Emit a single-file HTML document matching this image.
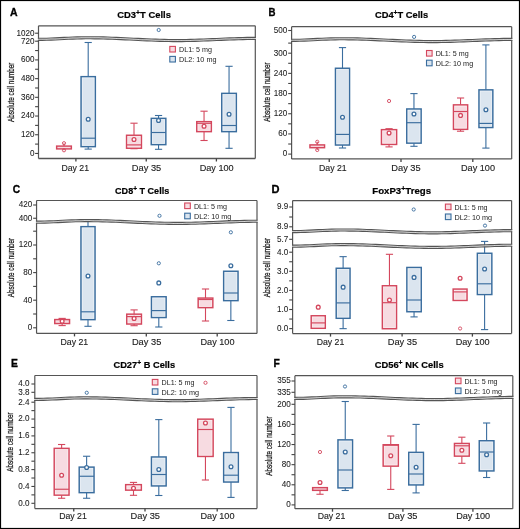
<!DOCTYPE html>
<html><head><meta charset="utf-8"><style>
html,body{margin:0;padding:0;background:#fff;overflow:hidden;}
svg{display:block;font-family:"Liberation Sans",sans-serif;will-change:transform;}
</style></head><body>
<svg width="520" height="529" viewBox="0 0 520 529">
<rect x="0" y="0" width="520" height="529" fill="#fff"/>
<rect x="0.5" y="0.5" width="519" height="528" fill="none" stroke="#000" stroke-width="1.2"/>
<line x1="38.5" y1="25.8" x2="255.3" y2="25.8" stroke="#555555" stroke-width="1.2"/>
<line x1="38.5" y1="158.5" x2="255.3" y2="158.5" stroke="#555555" stroke-width="1.3"/>
<line x1="38.5" y1="25.8" x2="38.5" y2="158.5" stroke="#555555" stroke-width="1.2"/>
<line x1="255.3" y1="25.8" x2="255.3" y2="158.5" stroke="#555555" stroke-width="1.2"/>
<line x1="35.1" y1="33.2" x2="38.5" y2="33.2" stroke="#444" stroke-width="1.1"/>
<text x="16.38" y="35.5" font-size="8.6" textLength="18.02" lengthAdjust="spacingAndGlyphs" fill="#222" stroke="#222" stroke-width="0.08">1020</text>
<line x1="35.1" y1="153.45" x2="38.5" y2="153.45" stroke="#444" stroke-width="1.1"/>
<text x="29.9" y="155.75" font-size="8.6" textLength="4.5" lengthAdjust="spacingAndGlyphs" fill="#222" stroke="#222" stroke-width="0.08">0</text>
<line x1="35.1" y1="144.1" x2="38.5" y2="144.1" stroke="#444" stroke-width="1.1"/>
<line x1="35.1" y1="134.74" x2="38.5" y2="134.74" stroke="#444" stroke-width="1.1"/>
<text x="20.89" y="137.04" font-size="8.6" textLength="13.51" lengthAdjust="spacingAndGlyphs" fill="#222" stroke="#222" stroke-width="0.08">120</text>
<line x1="35.1" y1="125.39" x2="38.5" y2="125.39" stroke="#444" stroke-width="1.1"/>
<line x1="35.1" y1="116.03" x2="38.5" y2="116.03" stroke="#444" stroke-width="1.1"/>
<text x="20.89" y="118.33" font-size="8.6" textLength="13.51" lengthAdjust="spacingAndGlyphs" fill="#222" stroke="#222" stroke-width="0.08">240</text>
<line x1="35.1" y1="106.68" x2="38.5" y2="106.68" stroke="#444" stroke-width="1.1"/>
<line x1="35.1" y1="97.32" x2="38.5" y2="97.32" stroke="#444" stroke-width="1.1"/>
<text x="20.89" y="99.62" font-size="8.6" textLength="13.51" lengthAdjust="spacingAndGlyphs" fill="#222" stroke="#222" stroke-width="0.08">360</text>
<line x1="35.1" y1="87.97" x2="38.5" y2="87.97" stroke="#444" stroke-width="1.1"/>
<line x1="35.1" y1="78.62" x2="38.5" y2="78.62" stroke="#444" stroke-width="1.1"/>
<text x="20.89" y="80.92" font-size="8.6" textLength="13.51" lengthAdjust="spacingAndGlyphs" fill="#222" stroke="#222" stroke-width="0.08">480</text>
<line x1="35.1" y1="69.26" x2="38.5" y2="69.26" stroke="#444" stroke-width="1.1"/>
<line x1="35.1" y1="59.91" x2="38.5" y2="59.91" stroke="#444" stroke-width="1.1"/>
<text x="20.89" y="62.21" font-size="8.6" textLength="13.51" lengthAdjust="spacingAndGlyphs" fill="#222" stroke="#222" stroke-width="0.08">600</text>
<line x1="35.1" y1="50.55" x2="38.5" y2="50.55" stroke="#444" stroke-width="1.1"/>
<line x1="35.1" y1="41.2" x2="38.5" y2="41.2" stroke="#444" stroke-width="1.1"/>
<text x="20.89" y="43.5" font-size="8.6" textLength="13.51" lengthAdjust="spacingAndGlyphs" fill="#222" stroke="#222" stroke-width="0.08">720</text>
<line x1="75.9" y1="158.5" x2="75.9" y2="161.5" stroke="#444" stroke-width="1.3"/>
<text x="61.4" y="171.2" font-size="9.8" textLength="27.6" lengthAdjust="spacingAndGlyphs" fill="#1e1e1e" stroke="#1e1e1e" stroke-width="0.14">Day 21</text>
<line x1="146.25" y1="158.5" x2="146.25" y2="161.5" stroke="#444" stroke-width="1.3"/>
<text x="131.85" y="171.2" font-size="9.8" textLength="29.4" lengthAdjust="spacingAndGlyphs" fill="#1e1e1e" stroke="#1e1e1e" stroke-width="0.14">Day 35</text>
<line x1="216.4" y1="158.5" x2="216.4" y2="161.5" stroke="#444" stroke-width="1.3"/>
<text x="199.7" y="171.2" font-size="9.8" textLength="34.0" lengthAdjust="spacingAndGlyphs" fill="#1e1e1e" stroke="#1e1e1e" stroke-width="0.14">Day 100</text>
<line x1="64" y1="143.2" x2="64" y2="146.1" stroke="#d4475d" stroke-width="1.1"/>
<line x1="64" y1="148.9" x2="64" y2="150.3" stroke="#d4475d" stroke-width="1.1"/>
<rect x="56.65" y="146.1" width="14.7" height="2.8" fill="#f7dbe1" stroke="#d4475d" stroke-width="1.45"/>
<circle cx="64" cy="143.2" r="1.6" fill="none" stroke="#d4475d" stroke-width="0.9"/>
<circle cx="64" cy="150.3" r="1.6" fill="none" stroke="#d4475d" stroke-width="0.9"/>
<line x1="88.2" y1="42.5" x2="88.2" y2="76.65" stroke="#3a6d9e" stroke-width="1.1"/>
<line x1="84.6" y1="42.5" x2="91.8" y2="42.5" stroke="#3a6d9e" stroke-width="1.1"/>
<line x1="88.2" y1="146.65" x2="88.2" y2="149.1" stroke="#3a6d9e" stroke-width="1.1"/>
<line x1="84.6" y1="149.1" x2="91.8" y2="149.1" stroke="#3a6d9e" stroke-width="1.1"/>
<rect x="81.05" y="76.65" width="14.3" height="70" fill="#dbe5ef" stroke="#3a6d9e" stroke-width="1.45"/>
<rect x="82.35" y="77.95" width="11.7" height="67.4" fill="none" stroke="#fff" stroke-opacity="0.55" stroke-width="0.6"/>
<line x1="81.05" y1="138.2" x2="95.35" y2="138.2" stroke="#3a6d9e" stroke-width="1.15"/>
<circle cx="88.2" cy="119.3" r="1.9" fill="#fff" stroke="#3a6d9e" stroke-width="1.3"/>
<line x1="134" y1="123.2" x2="134" y2="135.25" stroke="#d4475d" stroke-width="1.1"/>
<line x1="130.4" y1="123.2" x2="137.6" y2="123.2" stroke="#d4475d" stroke-width="1.1"/>
<line x1="134" y1="148.25" x2="134" y2="148.7" stroke="#d4475d" stroke-width="1.1"/>
<line x1="130.4" y1="148.7" x2="137.6" y2="148.7" stroke="#d4475d" stroke-width="1.1"/>
<rect x="126.55" y="135.25" width="14.9" height="13" fill="#f7dbe1" stroke="#d4475d" stroke-width="1.45"/>
<rect x="127.85" y="136.55" width="12.3" height="10.4" fill="none" stroke="#fff" stroke-opacity="0.55" stroke-width="0.6"/>
<line x1="126.55" y1="144.9" x2="141.45" y2="144.9" stroke="#d4475d" stroke-width="1.15"/>
<circle cx="134" cy="139.5" r="1.9" fill="#fff" stroke="#d4475d" stroke-width="1.3"/>
<line x1="158.55" y1="115.5" x2="158.55" y2="118.35" stroke="#3a6d9e" stroke-width="1.1"/>
<line x1="154.95" y1="115.5" x2="162.15" y2="115.5" stroke="#3a6d9e" stroke-width="1.1"/>
<line x1="158.55" y1="144.65" x2="158.55" y2="149.3" stroke="#3a6d9e" stroke-width="1.1"/>
<line x1="154.95" y1="149.3" x2="162.15" y2="149.3" stroke="#3a6d9e" stroke-width="1.1"/>
<rect x="151.25" y="118.35" width="14.6" height="26.3" fill="#dbe5ef" stroke="#3a6d9e" stroke-width="1.45"/>
<rect x="152.55" y="119.65" width="12" height="23.7" fill="none" stroke="#fff" stroke-opacity="0.55" stroke-width="0.6"/>
<line x1="151.25" y1="132.5" x2="165.85" y2="132.5" stroke="#3a6d9e" stroke-width="1.15"/>
<circle cx="158.55" cy="120.5" r="1.9" fill="#fff" stroke="#3a6d9e" stroke-width="1.3"/>
<line x1="204.05" y1="111.2" x2="204.05" y2="121.65" stroke="#d4475d" stroke-width="1.1"/>
<line x1="200.45" y1="111.2" x2="207.65" y2="111.2" stroke="#d4475d" stroke-width="1.1"/>
<line x1="204.05" y1="131.65" x2="204.05" y2="140.5" stroke="#d4475d" stroke-width="1.1"/>
<line x1="200.45" y1="140.5" x2="207.65" y2="140.5" stroke="#d4475d" stroke-width="1.1"/>
<rect x="196.75" y="121.65" width="14.6" height="10" fill="#f7dbe1" stroke="#d4475d" stroke-width="1.45"/>
<rect x="198.05" y="122.95" width="12" height="7.4" fill="none" stroke="#fff" stroke-opacity="0.55" stroke-width="0.6"/>
<line x1="196.75" y1="123.3" x2="211.35" y2="123.3" stroke="#d4475d" stroke-width="1.15"/>
<circle cx="204.05" cy="126.3" r="1.9" fill="#fff" stroke="#d4475d" stroke-width="1.3"/>
<line x1="229.05" y1="66.3" x2="229.05" y2="93.35" stroke="#3a6d9e" stroke-width="1.1"/>
<line x1="225.45" y1="66.3" x2="232.65" y2="66.3" stroke="#3a6d9e" stroke-width="1.1"/>
<line x1="229.05" y1="131.65" x2="229.05" y2="148.3" stroke="#3a6d9e" stroke-width="1.1"/>
<line x1="225.45" y1="148.3" x2="232.65" y2="148.3" stroke="#3a6d9e" stroke-width="1.1"/>
<rect x="221.75" y="93.35" width="14.6" height="38.3" fill="#dbe5ef" stroke="#3a6d9e" stroke-width="1.45"/>
<rect x="223.05" y="94.65" width="12" height="35.7" fill="none" stroke="#fff" stroke-opacity="0.55" stroke-width="0.6"/>
<line x1="221.75" y1="125.5" x2="236.35" y2="125.5" stroke="#3a6d9e" stroke-width="1.15"/>
<circle cx="229.05" cy="114.3" r="1.9" fill="#fff" stroke="#3a6d9e" stroke-width="1.3"/>
<circle cx="158.7" cy="30" r="1.6" fill="none" stroke="#3a6d9e" stroke-width="0.9"/>
<polygon points="37,38.7 41.4,38.67 45.79,38.58 50.19,38.44 54.58,38.25 58.98,38.04 63.38,37.82 67.77,37.6 72.17,37.41 76.56,37.25 80.96,37.15 85.36,37.1 89.75,37.11 94.15,37.15 98.54,37.22 102.94,37.32 107.34,37.45 111.73,37.6 116.13,37.77 120.52,37.96 124.92,38.16 129.32,38.37 133.71,38.58 138.11,38.79 142.5,38.99 146.9,39.18 151.3,39.36 155.69,39.52 160.09,39.65 164.48,39.76 168.88,39.84 173.28,39.88 177.67,39.9 182.07,39.88 186.46,39.84 190.86,39.76 195.26,39.65 199.65,39.52 204.05,39.36 208.44,39.19 212.84,39.01 217.24,38.83 221.63,38.64 226.03,38.46 230.42,38.29 234.82,38.13 239.22,38 243.61,37.89 248.01,37.81 252.4,37.77 256.8,37.75 256.8,39.05 252.4,39.07 248.01,39.11 243.61,39.19 239.22,39.3 234.82,39.43 230.42,39.59 226.03,39.76 221.63,39.94 217.24,40.12 212.84,40.31 208.44,40.49 204.05,40.66 199.65,40.82 195.26,40.95 190.86,41.06 186.46,41.14 182.07,41.18 177.67,41.2 173.28,41.18 168.88,41.14 164.48,41.06 160.09,40.95 155.69,40.82 151.3,40.66 146.9,40.48 142.5,40.29 138.11,40.09 133.71,39.88 129.32,39.67 124.92,39.46 120.52,39.26 116.13,39.07 111.73,38.9 107.34,38.75 102.94,38.62 98.54,38.52 94.15,38.45 89.75,38.41 85.36,38.4 80.96,38.45 76.56,38.55 72.17,38.71 67.77,38.9 63.38,39.12 58.98,39.34 54.58,39.55 50.19,39.74 45.79,39.88 41.4,39.97 37,40" fill="#fff" stroke="none"/>
<polyline points="37.9,39.35 42.26,39.32 46.62,39.23 50.98,39.09 55.34,38.9 59.7,38.69 64.06,38.47 68.42,38.25 72.78,38.06 77.14,37.9 81.5,37.8 85.86,37.75 90.22,37.76 94.58,37.8 98.94,37.87 103.3,37.97 107.66,38.1 112.02,38.25 116.38,38.42 120.74,38.61 125.1,38.81 129.46,39.02 133.82,39.23 138.18,39.44 142.54,39.64 146.9,39.83 151.26,40.01 155.62,40.17 159.98,40.3 164.34,40.41 168.7,40.49 173.06,40.53 177.42,40.55 181.78,40.53 186.14,40.49 190.5,40.41 194.86,40.3 199.22,40.17 203.58,40.01 207.94,39.84 212.3,39.66 216.66,39.48 221.02,39.29 225.38,39.11 229.74,38.94 234.1,38.78 238.46,38.65 242.82,38.54 247.18,38.46 251.54,38.42 255.9,38.4" fill="none" stroke="#c8c8c8" stroke-width="1"/>
<polyline points="37.9,38.3 42.26,38.27 46.62,38.18 50.98,38.04 55.34,37.85 59.7,37.64 64.06,37.42 68.42,37.2 72.78,37.01 77.14,36.85 81.5,36.75 85.86,36.7 90.22,36.71 94.58,36.75 98.94,36.82 103.3,36.92 107.66,37.05 112.02,37.2 116.38,37.37 120.74,37.56 125.1,37.76 129.46,37.97 133.82,38.18 138.18,38.39 142.54,38.59 146.9,38.78 151.26,38.96 155.62,39.12 159.98,39.25 164.34,39.36 168.7,39.44 173.06,39.48 177.42,39.5 181.78,39.48 186.14,39.44 190.5,39.36 194.86,39.25 199.22,39.12 203.58,38.96 207.94,38.79 212.3,38.61 216.66,38.43 221.02,38.24 225.38,38.06 229.74,37.89 234.1,37.73 238.46,37.6 242.82,37.49 247.18,37.41 251.54,37.37 255.9,37.35" fill="none" stroke="#555555" stroke-width="1.1"/>
<polyline points="37.9,40.4 42.26,40.37 46.62,40.28 50.98,40.14 55.34,39.95 59.7,39.74 64.06,39.52 68.42,39.3 72.78,39.11 77.14,38.95 81.5,38.85 85.86,38.8 90.22,38.81 94.58,38.85 98.94,38.92 103.3,39.02 107.66,39.15 112.02,39.3 116.38,39.47 120.74,39.66 125.1,39.86 129.46,40.07 133.82,40.28 138.18,40.49 142.54,40.69 146.9,40.88 151.26,41.06 155.62,41.22 159.98,41.35 164.34,41.46 168.7,41.54 173.06,41.58 177.42,41.6 181.78,41.58 186.14,41.54 190.5,41.46 194.86,41.35 199.22,41.22 203.58,41.06 207.94,40.89 212.3,40.71 216.66,40.52 221.02,40.34 225.38,40.16 229.74,39.99 234.1,39.83 238.46,39.7 242.82,39.59 247.18,39.51 251.54,39.47 255.9,39.45" fill="none" stroke="#555555" stroke-width="1.1"/>
<rect x="169.8" y="46.4" width="5.6" height="5.6" fill="#f7dbe1" stroke="#d4475d" stroke-width="1.1"/>
<text x="179" y="52.1" font-size="8" textLength="33" lengthAdjust="spacingAndGlyphs" fill="#222">DL1: 5 mg</text>
<rect x="169.8" y="56.4" width="5.6" height="5.6" fill="#dbe5ef" stroke="#3a6d9e" stroke-width="1.1"/>
<text x="179" y="62.1" font-size="8" textLength="37.5" lengthAdjust="spacingAndGlyphs" fill="#222">DL2: 10 mg</text>
<text x="10" y="16.2" font-size="11.8" font-weight="bold" fill="#000" stroke="#000" stroke-width="0.35" textLength="7.6" lengthAdjust="spacingAndGlyphs">A</text>
<text x="117.3" y="18" font-size="9.6" font-weight="bold" fill="#000" stroke="#000" stroke-width="0.2" textLength="53.6" lengthAdjust="spacingAndGlyphs">CD3<tspan font-size="7" dy="-2.9">+</tspan><tspan dy="2.9">T Cells</tspan></text>
<text transform="translate(14,92.3) rotate(-90)" x="0" y="0" font-size="9.4" text-anchor="middle" textLength="59.5" lengthAdjust="spacingAndGlyphs" fill="#1a1a1a" stroke="#1a1a1a" stroke-width="0.28">Absolute cell number</text>
<line x1="291.6" y1="26.7" x2="511.7" y2="26.7" stroke="#555555" stroke-width="1.2"/>
<line x1="291.6" y1="158.9" x2="511.7" y2="158.9" stroke="#555555" stroke-width="1.3"/>
<line x1="291.6" y1="26.7" x2="291.6" y2="158.9" stroke="#555555" stroke-width="1.2"/>
<line x1="511.7" y1="26.7" x2="511.7" y2="158.9" stroke="#555555" stroke-width="1.2"/>
<line x1="288.2" y1="30.5" x2="291.6" y2="30.5" stroke="#444" stroke-width="1.1"/>
<text x="273.84" y="32.8" font-size="8.6" textLength="13.51" lengthAdjust="spacingAndGlyphs" fill="#222" stroke="#222" stroke-width="0.08">500</text>
<line x1="288.2" y1="154.1" x2="291.6" y2="154.1" stroke="#444" stroke-width="1.1"/>
<text x="282.85" y="156.4" font-size="8.6" textLength="4.5" lengthAdjust="spacingAndGlyphs" fill="#222" stroke="#222" stroke-width="0.08">0</text>
<line x1="288.2" y1="144.01" x2="291.6" y2="144.01" stroke="#444" stroke-width="1.1"/>
<line x1="288.2" y1="133.92" x2="291.6" y2="133.92" stroke="#444" stroke-width="1.1"/>
<text x="278.34" y="136.22" font-size="8.6" textLength="9.01" lengthAdjust="spacingAndGlyphs" fill="#222" stroke="#222" stroke-width="0.08">60</text>
<line x1="288.2" y1="123.83" x2="291.6" y2="123.83" stroke="#444" stroke-width="1.1"/>
<line x1="288.2" y1="113.74" x2="291.6" y2="113.74" stroke="#444" stroke-width="1.1"/>
<text x="273.84" y="116.04" font-size="8.6" textLength="13.51" lengthAdjust="spacingAndGlyphs" fill="#222" stroke="#222" stroke-width="0.08">120</text>
<line x1="288.2" y1="103.65" x2="291.6" y2="103.65" stroke="#444" stroke-width="1.1"/>
<line x1="288.2" y1="93.56" x2="291.6" y2="93.56" stroke="#444" stroke-width="1.1"/>
<text x="273.84" y="95.86" font-size="8.6" textLength="13.51" lengthAdjust="spacingAndGlyphs" fill="#222" stroke="#222" stroke-width="0.08">180</text>
<line x1="288.2" y1="83.47" x2="291.6" y2="83.47" stroke="#444" stroke-width="1.1"/>
<line x1="288.2" y1="73.38" x2="291.6" y2="73.38" stroke="#444" stroke-width="1.1"/>
<text x="273.84" y="75.68" font-size="8.6" textLength="13.51" lengthAdjust="spacingAndGlyphs" fill="#222" stroke="#222" stroke-width="0.08">240</text>
<line x1="288.2" y1="63.29" x2="291.6" y2="63.29" stroke="#444" stroke-width="1.1"/>
<line x1="288.2" y1="53.2" x2="291.6" y2="53.2" stroke="#444" stroke-width="1.1"/>
<text x="273.84" y="55.5" font-size="8.6" textLength="13.51" lengthAdjust="spacingAndGlyphs" fill="#222" stroke="#222" stroke-width="0.08">300</text>
<line x1="288.2" y1="43.11" x2="291.6" y2="43.11" stroke="#444" stroke-width="1.1"/>
<line x1="329.25" y1="158.9" x2="329.25" y2="161.9" stroke="#444" stroke-width="1.3"/>
<text x="319.05" y="171.4" font-size="9.8" textLength="27.6" lengthAdjust="spacingAndGlyphs" fill="#1e1e1e" stroke="#1e1e1e" stroke-width="0.14">Day 21</text>
<line x1="401" y1="158.9" x2="401" y2="161.9" stroke="#444" stroke-width="1.3"/>
<text x="391.3" y="171.4" font-size="9.8" textLength="29.4" lengthAdjust="spacingAndGlyphs" fill="#1e1e1e" stroke="#1e1e1e" stroke-width="0.14">Day 35</text>
<line x1="472.8" y1="158.9" x2="472.8" y2="161.9" stroke="#444" stroke-width="1.3"/>
<text x="461" y="171.4" font-size="9.8" textLength="34.0" lengthAdjust="spacingAndGlyphs" fill="#1e1e1e" stroke="#1e1e1e" stroke-width="0.14">Day 100</text>
<line x1="317.25" y1="141.8" x2="317.25" y2="144.9" stroke="#d4475d" stroke-width="1.1"/>
<line x1="317.25" y1="147.7" x2="317.25" y2="150" stroke="#d4475d" stroke-width="1.1"/>
<rect x="309.95" y="144.9" width="14.6" height="2.8" fill="#f7dbe1" stroke="#d4475d" stroke-width="1.45"/>
<circle cx="317.25" cy="141.8" r="1.6" fill="none" stroke="#d4475d" stroke-width="0.9"/>
<circle cx="317.25" cy="150" r="1.6" fill="none" stroke="#d4475d" stroke-width="0.9"/>
<line x1="342.5" y1="47.6" x2="342.5" y2="68.25" stroke="#3a6d9e" stroke-width="1.1"/>
<line x1="338.9" y1="47.6" x2="346.1" y2="47.6" stroke="#3a6d9e" stroke-width="1.1"/>
<line x1="342.5" y1="145.05" x2="342.5" y2="148" stroke="#3a6d9e" stroke-width="1.1"/>
<line x1="338.9" y1="148" x2="346.1" y2="148" stroke="#3a6d9e" stroke-width="1.1"/>
<rect x="335.45" y="68.25" width="14.1" height="76.8" fill="#dbe5ef" stroke="#3a6d9e" stroke-width="1.45"/>
<rect x="336.75" y="69.55" width="11.5" height="74.2" fill="none" stroke="#fff" stroke-opacity="0.55" stroke-width="0.6"/>
<line x1="335.45" y1="134.4" x2="349.55" y2="134.4" stroke="#3a6d9e" stroke-width="1.15"/>
<circle cx="342.5" cy="117.3" r="1.9" fill="#fff" stroke="#3a6d9e" stroke-width="1.3"/>
<line x1="389.05" y1="128.7" x2="389.05" y2="129.65" stroke="#d4475d" stroke-width="1.1"/>
<line x1="385.45" y1="128.7" x2="392.65" y2="128.7" stroke="#d4475d" stroke-width="1.1"/>
<line x1="389.05" y1="144.45" x2="389.05" y2="146.9" stroke="#d4475d" stroke-width="1.1"/>
<line x1="385.45" y1="146.9" x2="392.65" y2="146.9" stroke="#d4475d" stroke-width="1.1"/>
<rect x="381.45" y="129.65" width="15.2" height="14.8" fill="#f7dbe1" stroke="#d4475d" stroke-width="1.45"/>
<rect x="382.75" y="130.95" width="12.6" height="12.2" fill="none" stroke="#fff" stroke-opacity="0.55" stroke-width="0.6"/>
<circle cx="389.05" cy="133.1" r="1.9" fill="#fff" stroke="#d4475d" stroke-width="1.3"/>
<circle cx="389.05" cy="101" r="1.6" fill="none" stroke="#d4475d" stroke-width="0.9"/>
<line x1="413.95" y1="93.6" x2="413.95" y2="108.95" stroke="#3a6d9e" stroke-width="1.1"/>
<line x1="410.35" y1="93.6" x2="417.55" y2="93.6" stroke="#3a6d9e" stroke-width="1.1"/>
<line x1="413.95" y1="143.15" x2="413.95" y2="146.3" stroke="#3a6d9e" stroke-width="1.1"/>
<line x1="410.35" y1="146.3" x2="417.55" y2="146.3" stroke="#3a6d9e" stroke-width="1.1"/>
<rect x="406.75" y="108.95" width="14.4" height="34.2" fill="#dbe5ef" stroke="#3a6d9e" stroke-width="1.45"/>
<rect x="408.05" y="110.25" width="11.8" height="31.6" fill="none" stroke="#fff" stroke-opacity="0.55" stroke-width="0.6"/>
<line x1="406.75" y1="122.7" x2="421.15" y2="122.7" stroke="#3a6d9e" stroke-width="1.15"/>
<circle cx="413.95" cy="114" r="1.9" fill="#fff" stroke="#3a6d9e" stroke-width="1.3"/>
<line x1="460.55" y1="98" x2="460.55" y2="104.85" stroke="#d4475d" stroke-width="1.1"/>
<line x1="456.95" y1="98" x2="464.15" y2="98" stroke="#d4475d" stroke-width="1.1"/>
<line x1="460.55" y1="129.35" x2="460.55" y2="131.2" stroke="#d4475d" stroke-width="1.1"/>
<line x1="456.95" y1="131.2" x2="464.15" y2="131.2" stroke="#d4475d" stroke-width="1.1"/>
<rect x="453.45" y="104.85" width="14.2" height="24.5" fill="#f7dbe1" stroke="#d4475d" stroke-width="1.45"/>
<rect x="454.75" y="106.15" width="11.6" height="21.9" fill="none" stroke="#fff" stroke-opacity="0.55" stroke-width="0.6"/>
<line x1="453.45" y1="111.5" x2="467.65" y2="111.5" stroke="#d4475d" stroke-width="1.15"/>
<circle cx="460.55" cy="115.4" r="1.9" fill="#fff" stroke="#d4475d" stroke-width="1.3"/>
<line x1="485.9" y1="44.9" x2="485.9" y2="89.85" stroke="#3a6d9e" stroke-width="1.1"/>
<line x1="482.3" y1="44.9" x2="489.5" y2="44.9" stroke="#3a6d9e" stroke-width="1.1"/>
<line x1="485.9" y1="127.55" x2="485.9" y2="148.1" stroke="#3a6d9e" stroke-width="1.1"/>
<line x1="482.3" y1="148.1" x2="489.5" y2="148.1" stroke="#3a6d9e" stroke-width="1.1"/>
<rect x="478.95" y="89.85" width="13.9" height="37.7" fill="#dbe5ef" stroke="#3a6d9e" stroke-width="1.45"/>
<rect x="480.25" y="91.15" width="11.3" height="35.1" fill="none" stroke="#fff" stroke-opacity="0.55" stroke-width="0.6"/>
<line x1="478.95" y1="123.4" x2="492.85" y2="123.4" stroke="#3a6d9e" stroke-width="1.15"/>
<circle cx="485.9" cy="109.7" r="1.9" fill="#fff" stroke="#3a6d9e" stroke-width="1.3"/>
<circle cx="414.1" cy="36.9" r="1.6" fill="none" stroke="#3a6d9e" stroke-width="0.9"/>
<polygon points="290.1,39.7 294.56,39.67 299.02,39.58 303.49,39.44 307.95,39.25 312.41,39.04 316.87,38.82 321.33,38.6 325.8,38.41 330.26,38.25 334.72,38.15 339.18,38.1 343.64,38.11 348.11,38.15 352.57,38.22 357.03,38.32 361.49,38.45 365.95,38.6 370.42,38.77 374.88,38.96 379.34,39.16 383.8,39.37 388.26,39.58 392.73,39.79 397.19,39.99 401.65,40.18 406.11,40.36 410.57,40.52 415.04,40.65 419.5,40.76 423.96,40.84 428.42,40.88 432.88,40.9 437.35,40.88 441.81,40.84 446.27,40.76 450.73,40.65 455.19,40.52 459.66,40.36 464.12,40.19 468.58,40.01 473.04,39.83 477.5,39.64 481.97,39.46 486.43,39.29 490.89,39.13 495.35,39 499.81,38.89 504.28,38.81 508.74,38.77 513.2,38.75 513.2,40.05 508.74,40.07 504.28,40.11 499.81,40.19 495.35,40.3 490.89,40.43 486.43,40.59 481.97,40.76 477.5,40.94 473.04,41.12 468.58,41.31 464.12,41.49 459.66,41.66 455.19,41.82 450.73,41.95 446.27,42.06 441.81,42.14 437.35,42.18 432.88,42.2 428.42,42.18 423.96,42.14 419.5,42.06 415.04,41.95 410.57,41.82 406.11,41.66 401.65,41.48 397.19,41.29 392.73,41.09 388.26,40.88 383.8,40.67 379.34,40.46 374.88,40.26 370.42,40.07 365.95,39.9 361.49,39.75 357.03,39.62 352.57,39.52 348.11,39.45 343.64,39.41 339.18,39.4 334.72,39.45 330.26,39.55 325.8,39.71 321.33,39.9 316.87,40.12 312.41,40.34 307.95,40.55 303.49,40.74 299.02,40.88 294.56,40.97 290.1,41" fill="#fff" stroke="none"/>
<polyline points="291,40.35 295.43,40.32 299.85,40.23 304.28,40.09 308.7,39.9 313.13,39.69 317.56,39.47 321.98,39.25 326.41,39.06 330.83,38.9 335.26,38.8 339.69,38.75 344.11,38.76 348.54,38.8 352.96,38.87 357.39,38.97 361.82,39.1 366.24,39.25 370.67,39.42 375.09,39.61 379.52,39.81 383.95,40.02 388.37,40.23 392.8,40.44 397.22,40.64 401.65,40.83 406.08,41.01 410.5,41.17 414.93,41.3 419.35,41.41 423.78,41.49 428.21,41.53 432.63,41.55 437.06,41.53 441.48,41.49 445.91,41.41 450.34,41.3 454.76,41.17 459.19,41.01 463.61,40.84 468.04,40.66 472.47,40.48 476.89,40.29 481.32,40.11 485.74,39.94 490.17,39.78 494.6,39.65 499.02,39.54 503.45,39.46 507.87,39.42 512.3,39.4" fill="none" stroke="#c8c8c8" stroke-width="1"/>
<polyline points="291,39.3 295.43,39.27 299.85,39.18 304.28,39.04 308.7,38.85 313.13,38.64 317.56,38.42 321.98,38.2 326.41,38.01 330.83,37.85 335.26,37.75 339.69,37.7 344.11,37.71 348.54,37.75 352.96,37.82 357.39,37.92 361.82,38.05 366.24,38.2 370.67,38.37 375.09,38.56 379.52,38.76 383.95,38.97 388.37,39.18 392.8,39.39 397.22,39.59 401.65,39.78 406.08,39.96 410.5,40.12 414.93,40.25 419.35,40.36 423.78,40.44 428.21,40.48 432.63,40.5 437.06,40.48 441.48,40.44 445.91,40.36 450.34,40.25 454.76,40.12 459.19,39.96 463.61,39.79 468.04,39.61 472.47,39.43 476.89,39.24 481.32,39.06 485.74,38.89 490.17,38.73 494.6,38.6 499.02,38.49 503.45,38.41 507.87,38.37 512.3,38.35" fill="none" stroke="#555555" stroke-width="1.1"/>
<polyline points="291,41.4 295.43,41.37 299.85,41.28 304.28,41.14 308.7,40.95 313.13,40.74 317.56,40.52 321.98,40.3 326.41,40.11 330.83,39.95 335.26,39.85 339.69,39.8 344.11,39.81 348.54,39.85 352.96,39.92 357.39,40.02 361.82,40.15 366.24,40.3 370.67,40.47 375.09,40.66 379.52,40.86 383.95,41.07 388.37,41.28 392.8,41.49 397.22,41.69 401.65,41.88 406.08,42.06 410.5,42.22 414.93,42.35 419.35,42.46 423.78,42.54 428.21,42.58 432.63,42.6 437.06,42.58 441.48,42.54 445.91,42.46 450.34,42.35 454.76,42.22 459.19,42.06 463.61,41.89 468.04,41.71 472.47,41.52 476.89,41.34 481.32,41.16 485.74,40.99 490.17,40.83 494.6,40.7 499.02,40.59 503.45,40.51 507.87,40.47 512.3,40.45" fill="none" stroke="#555555" stroke-width="1.1"/>
<rect x="426.5" y="50.5" width="5.6" height="5.6" fill="#f7dbe1" stroke="#d4475d" stroke-width="1.1"/>
<text x="435.7" y="56.2" font-size="8" textLength="33" lengthAdjust="spacingAndGlyphs" fill="#222">DL1: 5 mg</text>
<rect x="426.5" y="60.2" width="5.6" height="5.6" fill="#dbe5ef" stroke="#3a6d9e" stroke-width="1.1"/>
<text x="435.7" y="65.9" font-size="8" textLength="37.5" lengthAdjust="spacingAndGlyphs" fill="#222">DL2: 10 mg</text>
<text x="268.4" y="16.4" font-size="11.8" font-weight="bold" fill="#000" stroke="#000" stroke-width="0.35" textLength="7.0" lengthAdjust="spacingAndGlyphs">B</text>
<text x="375" y="17.9" font-size="9.6" font-weight="bold" fill="#000" stroke="#000" stroke-width="0.2" textLength="53.1" lengthAdjust="spacingAndGlyphs">CD4<tspan font-size="7" dy="-2.9">+</tspan><tspan dy="2.9">T Cells</tspan></text>
<text transform="translate(270,92.1) rotate(-90)" x="0" y="0" font-size="9.4" text-anchor="middle" textLength="59.5" lengthAdjust="spacingAndGlyphs" fill="#1a1a1a" stroke="#1a1a1a" stroke-width="0.28">Absolute cell number</text>
<line x1="36.55" y1="200.5" x2="257" y2="200.5" stroke="#555555" stroke-width="1.2"/>
<line x1="36.55" y1="333.4" x2="257" y2="333.4" stroke="#555555" stroke-width="1.3"/>
<line x1="36.55" y1="200.5" x2="36.55" y2="333.4" stroke="#555555" stroke-width="1.2"/>
<line x1="257" y1="200.5" x2="257" y2="333.4" stroke="#555555" stroke-width="1.2"/>
<line x1="33.15" y1="205" x2="36.55" y2="205" stroke="#444" stroke-width="1.1"/>
<text x="18.79" y="207.3" font-size="8.6" textLength="13.51" lengthAdjust="spacingAndGlyphs" fill="#222" stroke="#222" stroke-width="0.08">420</text>
<line x1="33.15" y1="218.25" x2="36.55" y2="218.25" stroke="#444" stroke-width="1.1"/>
<text x="18.79" y="220.55" font-size="8.6" textLength="13.51" lengthAdjust="spacingAndGlyphs" fill="#222" stroke="#222" stroke-width="0.08">400</text>
<line x1="33.15" y1="327.8" x2="36.55" y2="327.8" stroke="#444" stroke-width="1.1"/>
<text x="27.8" y="330.1" font-size="8.6" textLength="4.5" lengthAdjust="spacingAndGlyphs" fill="#222" stroke="#222" stroke-width="0.08">0</text>
<line x1="33.15" y1="314" x2="36.55" y2="314" stroke="#444" stroke-width="1.1"/>
<line x1="33.15" y1="300.2" x2="36.55" y2="300.2" stroke="#444" stroke-width="1.1"/>
<text x="23.29" y="302.5" font-size="8.6" textLength="9.01" lengthAdjust="spacingAndGlyphs" fill="#222" stroke="#222" stroke-width="0.08">40</text>
<line x1="33.15" y1="286.4" x2="36.55" y2="286.4" stroke="#444" stroke-width="1.1"/>
<line x1="33.15" y1="272.6" x2="36.55" y2="272.6" stroke="#444" stroke-width="1.1"/>
<text x="23.29" y="274.9" font-size="8.6" textLength="9.01" lengthAdjust="spacingAndGlyphs" fill="#222" stroke="#222" stroke-width="0.08">80</text>
<line x1="33.15" y1="258.8" x2="36.55" y2="258.8" stroke="#444" stroke-width="1.1"/>
<line x1="33.15" y1="245" x2="36.55" y2="245" stroke="#444" stroke-width="1.1"/>
<text x="18.79" y="247.3" font-size="8.6" textLength="13.51" lengthAdjust="spacingAndGlyphs" fill="#222" stroke="#222" stroke-width="0.08">120</text>
<line x1="33.15" y1="231.2" x2="36.55" y2="231.2" stroke="#444" stroke-width="1.1"/>
<line x1="74.5" y1="333.4" x2="74.5" y2="336.4" stroke="#444" stroke-width="1.3"/>
<text x="60.5" y="345.1" font-size="9.8" textLength="27.6" lengthAdjust="spacingAndGlyphs" fill="#1e1e1e" stroke="#1e1e1e" stroke-width="0.14">Day 21</text>
<line x1="146.3" y1="333.4" x2="146.3" y2="336.4" stroke="#444" stroke-width="1.3"/>
<text x="131.9" y="345.1" font-size="9.8" textLength="29.4" lengthAdjust="spacingAndGlyphs" fill="#1e1e1e" stroke="#1e1e1e" stroke-width="0.14">Day 35</text>
<line x1="217.2" y1="333.4" x2="217.2" y2="336.4" stroke="#444" stroke-width="1.3"/>
<text x="200.5" y="345.1" font-size="9.8" textLength="34.0" lengthAdjust="spacingAndGlyphs" fill="#1e1e1e" stroke="#1e1e1e" stroke-width="0.14">Day 100</text>
<line x1="62.15" y1="318.4" x2="62.15" y2="319.55" stroke="#d4475d" stroke-width="1.1"/>
<line x1="58.55" y1="318.4" x2="65.75" y2="318.4" stroke="#d4475d" stroke-width="1.1"/>
<line x1="62.15" y1="323.55" x2="62.15" y2="325.6" stroke="#d4475d" stroke-width="1.1"/>
<line x1="58.55" y1="325.6" x2="65.75" y2="325.6" stroke="#d4475d" stroke-width="1.1"/>
<rect x="54.75" y="319.55" width="14.8" height="4" fill="#f7dbe1" stroke="#d4475d" stroke-width="1.45"/>
<circle cx="62.15" cy="321.3" r="1.9" fill="#fff" stroke="#d4475d" stroke-width="1.3"/>
<line x1="88" y1="221" x2="88" y2="226.65" stroke="#3a6d9e" stroke-width="1.1"/>
<line x1="88" y1="319.65" x2="88" y2="326.3" stroke="#3a6d9e" stroke-width="1.1"/>
<line x1="84.4" y1="326.3" x2="91.6" y2="326.3" stroke="#3a6d9e" stroke-width="1.1"/>
<rect x="80.95" y="226.65" width="14.1" height="93" fill="#dbe5ef" stroke="#3a6d9e" stroke-width="1.45"/>
<rect x="82.25" y="227.95" width="11.5" height="90.4" fill="none" stroke="#fff" stroke-opacity="0.55" stroke-width="0.6"/>
<line x1="80.95" y1="311.8" x2="95.05" y2="311.8" stroke="#3a6d9e" stroke-width="1.15"/>
<circle cx="88" cy="276" r="1.9" fill="#fff" stroke="#3a6d9e" stroke-width="1.3"/>
<line x1="134.1" y1="309.9" x2="134.1" y2="314.15" stroke="#d4475d" stroke-width="1.1"/>
<line x1="130.5" y1="309.9" x2="137.7" y2="309.9" stroke="#d4475d" stroke-width="1.1"/>
<line x1="134.1" y1="324.05" x2="134.1" y2="325.7" stroke="#d4475d" stroke-width="1.1"/>
<line x1="130.5" y1="325.7" x2="137.7" y2="325.7" stroke="#d4475d" stroke-width="1.1"/>
<rect x="126.75" y="314.15" width="14.7" height="9.9" fill="#f7dbe1" stroke="#d4475d" stroke-width="1.45"/>
<rect x="128.05" y="315.45" width="12.1" height="7.3" fill="none" stroke="#fff" stroke-opacity="0.55" stroke-width="0.6"/>
<line x1="126.75" y1="316.6" x2="141.45" y2="316.6" stroke="#d4475d" stroke-width="1.15"/>
<circle cx="134.1" cy="318.4" r="1.9" fill="#fff" stroke="#d4475d" stroke-width="1.3"/>
<line x1="158.8" y1="317.55" x2="158.8" y2="327" stroke="#3a6d9e" stroke-width="1.1"/>
<line x1="155.2" y1="327" x2="162.4" y2="327" stroke="#3a6d9e" stroke-width="1.1"/>
<rect x="151.45" y="296.75" width="14.7" height="20.8" fill="#dbe5ef" stroke="#3a6d9e" stroke-width="1.45"/>
<rect x="152.75" y="298.05" width="12.1" height="18.2" fill="none" stroke="#fff" stroke-opacity="0.55" stroke-width="0.6"/>
<line x1="151.45" y1="310.6" x2="166.15" y2="310.6" stroke="#3a6d9e" stroke-width="1.15"/>
<circle cx="158.8" cy="282.9" r="1.9" fill="#fff" stroke="#3a6d9e" stroke-width="1.3"/>
<circle cx="158.8" cy="263.3" r="1.6" fill="none" stroke="#3a6d9e" stroke-width="0.9"/>
<line x1="205.5" y1="289" x2="205.5" y2="298.05" stroke="#d4475d" stroke-width="1.1"/>
<line x1="201.9" y1="289" x2="209.1" y2="289" stroke="#d4475d" stroke-width="1.1"/>
<line x1="205.5" y1="307.65" x2="205.5" y2="321" stroke="#d4475d" stroke-width="1.1"/>
<line x1="201.9" y1="321" x2="209.1" y2="321" stroke="#d4475d" stroke-width="1.1"/>
<rect x="198.15" y="298.05" width="14.7" height="9.6" fill="#f7dbe1" stroke="#d4475d" stroke-width="1.45"/>
<rect x="199.45" y="299.35" width="12.1" height="7" fill="none" stroke="#fff" stroke-opacity="0.55" stroke-width="0.6"/>
<line x1="198.15" y1="299.5" x2="212.85" y2="299.5" stroke="#d4475d" stroke-width="1.15"/>
<line x1="230.85" y1="300.65" x2="230.85" y2="320.5" stroke="#3a6d9e" stroke-width="1.1"/>
<line x1="227.25" y1="320.5" x2="234.45" y2="320.5" stroke="#3a6d9e" stroke-width="1.1"/>
<rect x="223.65" y="271.25" width="14.4" height="29.4" fill="#dbe5ef" stroke="#3a6d9e" stroke-width="1.45"/>
<rect x="224.95" y="272.55" width="11.8" height="26.8" fill="none" stroke="#fff" stroke-opacity="0.55" stroke-width="0.6"/>
<line x1="223.65" y1="293" x2="238.05" y2="293" stroke="#3a6d9e" stroke-width="1.15"/>
<circle cx="230.85" cy="265.7" r="1.9" fill="#fff" stroke="#3a6d9e" stroke-width="1.3"/>
<circle cx="230.85" cy="232.3" r="1.6" fill="none" stroke="#3a6d9e" stroke-width="0.9"/>
<circle cx="159.5" cy="215.8" r="1.6" fill="none" stroke="#3a6d9e" stroke-width="0.9"/>
<polygon points="35.05,221.55 39.52,221.52 43.99,221.43 48.46,221.29 52.93,221.1 57.39,220.89 61.86,220.67 66.33,220.45 70.8,220.26 75.27,220.1 79.74,220 84.21,219.95 88.68,219.96 93.15,220 97.62,220.07 102.08,220.17 106.55,220.3 111.02,220.45 115.49,220.62 119.96,220.81 124.43,221.01 128.9,221.22 133.37,221.43 137.84,221.64 142.31,221.84 146.77,222.03 151.24,222.21 155.71,222.37 160.18,222.5 164.65,222.61 169.12,222.69 173.59,222.73 178.06,222.75 182.53,222.73 187,222.69 191.46,222.61 195.93,222.5 200.4,222.37 204.87,222.21 209.34,222.04 213.81,221.86 218.28,221.67 222.75,221.49 227.22,221.31 231.69,221.14 236.15,220.98 240.62,220.85 245.09,220.74 249.56,220.66 254.03,220.62 258.5,220.6 258.5,221.9 254.03,221.92 249.56,221.96 245.09,222.04 240.62,222.15 236.15,222.28 231.69,222.44 227.22,222.61 222.75,222.79 218.28,222.97 213.81,223.16 209.34,223.34 204.87,223.51 200.4,223.67 195.93,223.8 191.46,223.91 187,223.99 182.53,224.03 178.06,224.05 173.59,224.03 169.12,223.99 164.65,223.91 160.18,223.8 155.71,223.67 151.24,223.51 146.77,223.33 142.31,223.14 137.84,222.94 133.37,222.73 128.9,222.52 124.43,222.31 119.96,222.11 115.49,221.92 111.02,221.75 106.55,221.6 102.08,221.47 97.62,221.37 93.15,221.3 88.68,221.26 84.21,221.25 79.74,221.3 75.27,221.4 70.8,221.56 66.33,221.75 61.86,221.97 57.39,222.19 52.93,222.4 48.46,222.59 43.99,222.73 39.52,222.82 35.05,222.85" fill="#fff" stroke="none"/>
<polyline points="35.95,222.2 40.38,222.17 44.82,222.08 49.25,221.94 53.68,221.75 58.12,221.54 62.55,221.32 66.98,221.1 71.41,220.91 75.85,220.75 80.28,220.65 84.71,220.6 89.15,220.61 93.58,220.65 98.01,220.72 102.44,220.82 106.88,220.95 111.31,221.1 115.74,221.27 120.18,221.46 124.61,221.66 129.04,221.87 133.48,222.08 137.91,222.29 142.34,222.49 146.78,222.68 151.21,222.86 155.64,223.02 160.07,223.15 164.51,223.26 168.94,223.34 173.37,223.38 177.81,223.4 182.24,223.38 186.67,223.34 191.1,223.26 195.54,223.15 199.97,223.02 204.4,222.86 208.84,222.69 213.27,222.51 217.7,222.32 222.14,222.14 226.57,221.96 231,221.79 235.44,221.63 239.87,221.5 244.3,221.39 248.73,221.31 253.17,221.27 257.6,221.25" fill="none" stroke="#c8c8c8" stroke-width="1"/>
<polyline points="35.95,221.15 40.38,221.12 44.82,221.03 49.25,220.89 53.68,220.7 58.12,220.49 62.55,220.27 66.98,220.05 71.41,219.86 75.85,219.7 80.28,219.6 84.71,219.55 89.15,219.56 93.58,219.6 98.01,219.67 102.44,219.77 106.88,219.9 111.31,220.05 115.74,220.22 120.18,220.41 124.61,220.61 129.04,220.82 133.48,221.03 137.91,221.24 142.34,221.44 146.78,221.63 151.21,221.81 155.64,221.97 160.07,222.1 164.51,222.21 168.94,222.29 173.37,222.33 177.81,222.35 182.24,222.33 186.67,222.29 191.1,222.21 195.54,222.1 199.97,221.97 204.4,221.81 208.84,221.64 213.27,221.46 217.7,221.27 222.14,221.09 226.57,220.91 231,220.74 235.44,220.58 239.87,220.45 244.3,220.34 248.73,220.26 253.17,220.22 257.6,220.2" fill="none" stroke="#555555" stroke-width="1.1"/>
<polyline points="35.95,223.25 40.38,223.22 44.82,223.13 49.25,222.99 53.68,222.8 58.12,222.59 62.55,222.37 66.98,222.15 71.41,221.96 75.85,221.8 80.28,221.7 84.71,221.65 89.15,221.66 93.58,221.7 98.01,221.77 102.44,221.87 106.88,222 111.31,222.15 115.74,222.32 120.18,222.51 124.61,222.71 129.04,222.92 133.48,223.13 137.91,223.34 142.34,223.54 146.78,223.73 151.21,223.91 155.64,224.07 160.07,224.2 164.51,224.31 168.94,224.39 173.37,224.43 177.81,224.45 182.24,224.43 186.67,224.39 191.1,224.31 195.54,224.2 199.97,224.07 204.4,223.91 208.84,223.74 213.27,223.56 217.7,223.38 222.14,223.19 226.57,223.01 231,222.84 235.44,222.68 239.87,222.55 244.3,222.44 248.73,222.36 253.17,222.32 257.6,222.3" fill="none" stroke="#555555" stroke-width="1.1"/>
<rect x="184.7" y="203" width="5.6" height="5.6" fill="#f7dbe1" stroke="#d4475d" stroke-width="1.1"/>
<text x="193.9" y="208.7" font-size="8" textLength="33" lengthAdjust="spacingAndGlyphs" fill="#222">DL1: 5 mg</text>
<rect x="184.7" y="213.2" width="5.6" height="5.6" fill="#dbe5ef" stroke="#3a6d9e" stroke-width="1.1"/>
<text x="193.9" y="218.9" font-size="8" textLength="37.5" lengthAdjust="spacingAndGlyphs" fill="#222">DL2: 10 mg</text>
<text x="12.7" y="193" font-size="11.8" font-weight="bold" fill="#000" stroke="#000" stroke-width="0.35" textLength="7.4" lengthAdjust="spacingAndGlyphs">C</text>
<text x="115.1" y="193.5" font-size="9.6" font-weight="bold" fill="#000" stroke="#000" stroke-width="0.2" textLength="54.1" lengthAdjust="spacingAndGlyphs">CD8<tspan font-size="7" dy="-2.9">+</tspan><tspan dy="2.9"> T Cells</tspan></text>
<text transform="translate(13.7,267.5) rotate(-90)" x="0" y="0" font-size="9.4" text-anchor="middle" textLength="59.5" lengthAdjust="spacingAndGlyphs" fill="#1a1a1a" stroke="#1a1a1a" stroke-width="0.28">Absolute cell number</text>
<line x1="292.6" y1="200.6" x2="511.6" y2="200.6" stroke="#555555" stroke-width="1.2"/>
<line x1="292.6" y1="333.6" x2="511.6" y2="333.6" stroke="#555555" stroke-width="1.3"/>
<line x1="292.6" y1="200.6" x2="292.6" y2="333.6" stroke="#555555" stroke-width="1.2"/>
<line x1="511.6" y1="200.6" x2="511.6" y2="333.6" stroke="#555555" stroke-width="1.2"/>
<line x1="289.2" y1="207" x2="292.6" y2="207" stroke="#444" stroke-width="1.1"/>
<text x="277.09" y="209.3" font-size="8.6" textLength="11.26" lengthAdjust="spacingAndGlyphs" fill="#222" stroke="#222" stroke-width="0.08">9.9</text>
<line x1="289.2" y1="217" x2="292.6" y2="217" stroke="#444" stroke-width="1.1"/>
<line x1="289.2" y1="226.8" x2="292.6" y2="226.8" stroke="#444" stroke-width="1.1"/>
<text x="277.09" y="229.1" font-size="8.6" textLength="11.26" lengthAdjust="spacingAndGlyphs" fill="#222" stroke="#222" stroke-width="0.08">8.9</text>
<line x1="289.2" y1="239.3" x2="292.6" y2="239.3" stroke="#444" stroke-width="1.1"/>
<text x="277.09" y="241.6" font-size="8.6" textLength="11.26" lengthAdjust="spacingAndGlyphs" fill="#222" stroke="#222" stroke-width="0.08">5.7</text>
<line x1="289.2" y1="328.6" x2="292.6" y2="328.6" stroke="#444" stroke-width="1.1"/>
<text x="277.09" y="330.9" font-size="8.6" textLength="11.26" lengthAdjust="spacingAndGlyphs" fill="#222" stroke="#222" stroke-width="0.08">0.0</text>
<line x1="289.2" y1="319.05" x2="292.6" y2="319.05" stroke="#444" stroke-width="1.1"/>
<line x1="289.2" y1="309.5" x2="292.6" y2="309.5" stroke="#444" stroke-width="1.1"/>
<text x="277.09" y="311.8" font-size="8.6" textLength="11.26" lengthAdjust="spacingAndGlyphs" fill="#222" stroke="#222" stroke-width="0.08">1.0</text>
<line x1="289.2" y1="299.95" x2="292.6" y2="299.95" stroke="#444" stroke-width="1.1"/>
<line x1="289.2" y1="290.4" x2="292.6" y2="290.4" stroke="#444" stroke-width="1.1"/>
<text x="277.09" y="292.7" font-size="8.6" textLength="11.26" lengthAdjust="spacingAndGlyphs" fill="#222" stroke="#222" stroke-width="0.08">2.0</text>
<line x1="289.2" y1="280.85" x2="292.6" y2="280.85" stroke="#444" stroke-width="1.1"/>
<line x1="289.2" y1="271.3" x2="292.6" y2="271.3" stroke="#444" stroke-width="1.1"/>
<text x="277.09" y="273.6" font-size="8.6" textLength="11.26" lengthAdjust="spacingAndGlyphs" fill="#222" stroke="#222" stroke-width="0.08">3.0</text>
<line x1="289.2" y1="261.75" x2="292.6" y2="261.75" stroke="#444" stroke-width="1.1"/>
<line x1="289.2" y1="252.2" x2="292.6" y2="252.2" stroke="#444" stroke-width="1.1"/>
<text x="277.09" y="254.5" font-size="8.6" textLength="11.26" lengthAdjust="spacingAndGlyphs" fill="#222" stroke="#222" stroke-width="0.08">4.0</text>
<line x1="330.5" y1="333.6" x2="330.5" y2="336.6" stroke="#444" stroke-width="1.3"/>
<text x="316.7" y="344.9" font-size="9.8" textLength="27.6" lengthAdjust="spacingAndGlyphs" fill="#1e1e1e" stroke="#1e1e1e" stroke-width="0.14">Day 21</text>
<line x1="402.1" y1="333.6" x2="402.1" y2="336.6" stroke="#444" stroke-width="1.3"/>
<text x="387.7" y="344.9" font-size="9.8" textLength="29.4" lengthAdjust="spacingAndGlyphs" fill="#1e1e1e" stroke="#1e1e1e" stroke-width="0.14">Day 35</text>
<line x1="472.4" y1="333.6" x2="472.4" y2="336.6" stroke="#444" stroke-width="1.3"/>
<text x="455.7" y="344.9" font-size="9.8" textLength="34.0" lengthAdjust="spacingAndGlyphs" fill="#1e1e1e" stroke="#1e1e1e" stroke-width="0.14">Day 100</text>
<rect x="311.2" y="315.75" width="14.1" height="12.55" fill="#f7dbe1" stroke="#d4475d" stroke-width="1.45"/>
<rect x="312.5" y="317.05" width="11.5" height="9.95" fill="none" stroke="#fff" stroke-opacity="0.55" stroke-width="0.6"/>
<line x1="311.2" y1="322.9" x2="325.3" y2="322.9" stroke="#d4475d" stroke-width="1.15"/>
<circle cx="318.25" cy="307.15" r="1.9" fill="#fff" stroke="#d4475d" stroke-width="1.3"/>
<line x1="343.12" y1="256.65" x2="343.12" y2="268.25" stroke="#3a6d9e" stroke-width="1.1"/>
<line x1="339.52" y1="256.65" x2="346.73" y2="256.65" stroke="#3a6d9e" stroke-width="1.1"/>
<line x1="343.12" y1="318.3" x2="343.12" y2="328.65" stroke="#3a6d9e" stroke-width="1.1"/>
<line x1="339.52" y1="328.65" x2="346.73" y2="328.65" stroke="#3a6d9e" stroke-width="1.1"/>
<rect x="336.2" y="268.25" width="13.85" height="50.05" fill="#dbe5ef" stroke="#3a6d9e" stroke-width="1.45"/>
<rect x="337.5" y="269.55" width="11.25" height="47.45" fill="none" stroke="#fff" stroke-opacity="0.55" stroke-width="0.6"/>
<line x1="336.2" y1="302.9" x2="350.05" y2="302.9" stroke="#3a6d9e" stroke-width="1.15"/>
<circle cx="343.12" cy="287.15" r="1.9" fill="#fff" stroke="#3a6d9e" stroke-width="1.3"/>
<line x1="389.45" y1="254.3" x2="389.45" y2="285.75" stroke="#d4475d" stroke-width="1.1"/>
<line x1="385.85" y1="254.3" x2="393.05" y2="254.3" stroke="#d4475d" stroke-width="1.1"/>
<rect x="382.35" y="285.75" width="14.2" height="43" fill="#f7dbe1" stroke="#d4475d" stroke-width="1.45"/>
<rect x="383.65" y="287.05" width="11.6" height="40.4" fill="none" stroke="#fff" stroke-opacity="0.55" stroke-width="0.6"/>
<line x1="382.35" y1="302.7" x2="396.55" y2="302.7" stroke="#d4475d" stroke-width="1.15"/>
<circle cx="389.45" cy="300" r="1.9" fill="#fff" stroke="#d4475d" stroke-width="1.3"/>
<line x1="414.05" y1="311.75" x2="414.05" y2="316.9" stroke="#3a6d9e" stroke-width="1.1"/>
<line x1="410.45" y1="316.9" x2="417.65" y2="316.9" stroke="#3a6d9e" stroke-width="1.1"/>
<rect x="406.85" y="267.45" width="14.4" height="44.3" fill="#dbe5ef" stroke="#3a6d9e" stroke-width="1.45"/>
<rect x="408.15" y="268.75" width="11.8" height="41.7" fill="none" stroke="#fff" stroke-opacity="0.55" stroke-width="0.6"/>
<line x1="406.85" y1="300" x2="421.25" y2="300" stroke="#3a6d9e" stroke-width="1.15"/>
<circle cx="414.05" cy="277.4" r="1.9" fill="#fff" stroke="#3a6d9e" stroke-width="1.3"/>
<rect x="453.15" y="289.05" width="13.9" height="11.4" fill="#f7dbe1" stroke="#d4475d" stroke-width="1.45"/>
<rect x="454.45" y="290.35" width="11.3" height="8.8" fill="none" stroke="#fff" stroke-opacity="0.55" stroke-width="0.6"/>
<line x1="453.15" y1="291.9" x2="467.05" y2="291.9" stroke="#d4475d" stroke-width="1.15"/>
<circle cx="460.1" cy="278.2" r="1.9" fill="#fff" stroke="#d4475d" stroke-width="1.3"/>
<circle cx="460.1" cy="328.5" r="1.6" fill="none" stroke="#d4475d" stroke-width="0.9"/>
<line x1="484.6" y1="241.4" x2="484.6" y2="253.25" stroke="#3a6d9e" stroke-width="1.1"/>
<line x1="481" y1="241.4" x2="488.2" y2="241.4" stroke="#3a6d9e" stroke-width="1.1"/>
<line x1="484.6" y1="294.55" x2="484.6" y2="329.6" stroke="#3a6d9e" stroke-width="1.1"/>
<line x1="481" y1="329.6" x2="488.2" y2="329.6" stroke="#3a6d9e" stroke-width="1.1"/>
<rect x="477.35" y="253.25" width="14.5" height="41.3" fill="#dbe5ef" stroke="#3a6d9e" stroke-width="1.45"/>
<rect x="478.65" y="254.55" width="11.9" height="38.7" fill="none" stroke="#fff" stroke-opacity="0.55" stroke-width="0.6"/>
<line x1="477.35" y1="283.8" x2="491.85" y2="283.8" stroke="#3a6d9e" stroke-width="1.15"/>
<circle cx="484.6" cy="269" r="1.9" fill="#fff" stroke="#3a6d9e" stroke-width="1.3"/>
<circle cx="413.7" cy="209.5" r="1.6" fill="none" stroke="#3a6d9e" stroke-width="0.9"/>
<circle cx="485" cy="225.6" r="1.6" fill="none" stroke="#3a6d9e" stroke-width="0.9"/>
<polygon points="291.1,230.95 295.54,230.92 299.98,230.83 304.42,230.69 308.86,230.5 313.3,230.29 317.74,230.07 322.18,229.85 326.62,229.66 331.06,229.5 335.5,229.4 339.94,229.35 344.38,229.36 348.82,229.4 353.26,229.47 357.7,229.57 362.14,229.7 366.58,229.85 371.02,230.02 375.46,230.21 379.9,230.41 384.34,230.62 388.78,230.83 393.22,231.04 397.66,231.24 402.1,231.43 406.54,231.61 410.98,231.77 415.42,231.9 419.86,232.01 424.3,232.09 428.74,232.13 433.18,232.15 437.62,232.13 442.06,232.09 446.5,232.01 450.94,231.9 455.38,231.77 459.82,231.61 464.26,231.44 468.7,231.26 473.14,231.07 477.58,230.89 482.02,230.71 486.46,230.54 490.9,230.38 495.34,230.25 499.78,230.14 504.22,230.06 508.66,230.02 513.1,230 513.1,231.3 508.66,231.32 504.22,231.36 499.78,231.44 495.34,231.55 490.9,231.68 486.46,231.84 482.02,232.01 477.58,232.19 473.14,232.38 468.7,232.56 464.26,232.74 459.82,232.91 455.38,233.07 450.94,233.2 446.5,233.31 442.06,233.39 437.62,233.43 433.18,233.45 428.74,233.43 424.3,233.39 419.86,233.31 415.42,233.2 410.98,233.07 406.54,232.91 402.1,232.73 397.66,232.54 393.22,232.34 388.78,232.13 384.34,231.92 379.9,231.71 375.46,231.51 371.02,231.32 366.58,231.15 362.14,231 357.7,230.87 353.26,230.77 348.82,230.7 344.38,230.66 339.94,230.65 335.5,230.7 331.06,230.8 326.62,230.96 322.18,231.15 317.74,231.37 313.3,231.59 308.86,231.8 304.42,231.99 299.98,232.13 295.54,232.22 291.1,232.25" fill="#fff" stroke="none"/>
<polyline points="292,231.6 296.4,231.57 300.81,231.48 305.21,231.34 309.62,231.15 314.02,230.94 318.42,230.72 322.83,230.5 327.23,230.31 331.64,230.15 336.04,230.05 340.44,230 344.85,230.01 349.25,230.05 353.66,230.12 358.06,230.22 362.46,230.35 366.87,230.5 371.27,230.67 375.68,230.86 380.08,231.06 384.48,231.27 388.89,231.48 393.29,231.69 397.7,231.89 402.1,232.08 406.5,232.26 410.91,232.42 415.31,232.55 419.72,232.66 424.12,232.74 428.52,232.78 432.93,232.8 437.33,232.78 441.74,232.74 446.14,232.66 450.54,232.55 454.95,232.42 459.35,232.26 463.76,232.09 468.16,231.91 472.56,231.72 476.97,231.54 481.37,231.36 485.78,231.19 490.18,231.03 494.58,230.9 498.99,230.79 503.39,230.71 507.8,230.67 512.2,230.65" fill="none" stroke="#c8c8c8" stroke-width="1"/>
<polyline points="292,230.55 296.4,230.52 300.81,230.43 305.21,230.29 309.62,230.1 314.02,229.89 318.42,229.67 322.83,229.45 327.23,229.26 331.64,229.1 336.04,229 340.44,228.95 344.85,228.96 349.25,229 353.66,229.07 358.06,229.17 362.46,229.3 366.87,229.45 371.27,229.62 375.68,229.81 380.08,230.01 384.48,230.22 388.89,230.43 393.29,230.64 397.7,230.84 402.1,231.03 406.5,231.21 410.91,231.37 415.31,231.5 419.72,231.61 424.12,231.69 428.52,231.73 432.93,231.75 437.33,231.73 441.74,231.69 446.14,231.61 450.54,231.5 454.95,231.37 459.35,231.21 463.76,231.04 468.16,230.86 472.56,230.67 476.97,230.49 481.37,230.31 485.78,230.14 490.18,229.98 494.58,229.85 498.99,229.74 503.39,229.66 507.8,229.62 512.2,229.6" fill="none" stroke="#555555" stroke-width="1.1"/>
<polyline points="292,232.65 296.4,232.62 300.81,232.53 305.21,232.39 309.62,232.2 314.02,231.99 318.42,231.77 322.83,231.55 327.23,231.36 331.64,231.2 336.04,231.1 340.44,231.05 344.85,231.06 349.25,231.1 353.66,231.17 358.06,231.27 362.46,231.4 366.87,231.55 371.27,231.72 375.68,231.91 380.08,232.11 384.48,232.32 388.89,232.53 393.29,232.74 397.7,232.94 402.1,233.13 406.5,233.31 410.91,233.47 415.31,233.6 419.72,233.71 424.12,233.79 428.52,233.83 432.93,233.85 437.33,233.83 441.74,233.79 446.14,233.71 450.54,233.6 454.95,233.47 459.35,233.31 463.76,233.14 468.16,232.96 472.56,232.78 476.97,232.59 481.37,232.41 485.78,232.24 490.18,232.08 494.58,231.95 498.99,231.84 503.39,231.76 507.8,231.72 512.2,231.7" fill="none" stroke="#555555" stroke-width="1.1"/>
<polygon points="291.1,245.55 295.54,245.52 299.98,245.43 304.42,245.29 308.86,245.1 313.3,244.89 317.74,244.67 322.18,244.45 326.62,244.26 331.06,244.1 335.5,244 339.94,243.95 344.38,243.96 348.82,244 353.26,244.07 357.7,244.17 362.14,244.3 366.58,244.45 371.02,244.62 375.46,244.81 379.9,245.01 384.34,245.22 388.78,245.43 393.22,245.64 397.66,245.84 402.1,246.03 406.54,246.21 410.98,246.37 415.42,246.5 419.86,246.61 424.3,246.69 428.74,246.73 433.18,246.75 437.62,246.73 442.06,246.69 446.5,246.61 450.94,246.5 455.38,246.37 459.82,246.21 464.26,246.04 468.7,245.86 473.14,245.67 477.58,245.49 482.02,245.31 486.46,245.14 490.9,244.98 495.34,244.85 499.78,244.74 504.22,244.66 508.66,244.62 513.1,244.6 513.1,245.9 508.66,245.92 504.22,245.96 499.78,246.04 495.34,246.15 490.9,246.28 486.46,246.44 482.02,246.61 477.58,246.79 473.14,246.97 468.7,247.16 464.26,247.34 459.82,247.51 455.38,247.67 450.94,247.8 446.5,247.91 442.06,247.99 437.62,248.03 433.18,248.05 428.74,248.03 424.3,247.99 419.86,247.91 415.42,247.8 410.98,247.67 406.54,247.51 402.1,247.33 397.66,247.14 393.22,246.94 388.78,246.73 384.34,246.52 379.9,246.31 375.46,246.11 371.02,245.92 366.58,245.75 362.14,245.6 357.7,245.47 353.26,245.37 348.82,245.3 344.38,245.26 339.94,245.25 335.5,245.3 331.06,245.4 326.62,245.56 322.18,245.75 317.74,245.97 313.3,246.19 308.86,246.4 304.42,246.59 299.98,246.73 295.54,246.82 291.1,246.85" fill="#fff" stroke="none"/>
<polyline points="292,246.2 296.4,246.17 300.81,246.08 305.21,245.94 309.62,245.75 314.02,245.54 318.42,245.32 322.83,245.1 327.23,244.91 331.64,244.75 336.04,244.65 340.44,244.6 344.85,244.61 349.25,244.65 353.66,244.72 358.06,244.82 362.46,244.95 366.87,245.1 371.27,245.27 375.68,245.46 380.08,245.66 384.48,245.87 388.89,246.08 393.29,246.29 397.7,246.49 402.1,246.68 406.5,246.86 410.91,247.02 415.31,247.15 419.72,247.26 424.12,247.34 428.52,247.38 432.93,247.4 437.33,247.38 441.74,247.34 446.14,247.26 450.54,247.15 454.95,247.02 459.35,246.86 463.76,246.69 468.16,246.51 472.56,246.32 476.97,246.14 481.37,245.96 485.78,245.79 490.18,245.63 494.58,245.5 498.99,245.39 503.39,245.31 507.8,245.27 512.2,245.25" fill="none" stroke="#c8c8c8" stroke-width="1"/>
<polyline points="292,245.15 296.4,245.12 300.81,245.03 305.21,244.89 309.62,244.7 314.02,244.49 318.42,244.27 322.83,244.05 327.23,243.86 331.64,243.7 336.04,243.6 340.44,243.55 344.85,243.56 349.25,243.6 353.66,243.67 358.06,243.77 362.46,243.9 366.87,244.05 371.27,244.22 375.68,244.41 380.08,244.61 384.48,244.82 388.89,245.03 393.29,245.24 397.7,245.44 402.1,245.63 406.5,245.81 410.91,245.97 415.31,246.1 419.72,246.21 424.12,246.29 428.52,246.33 432.93,246.35 437.33,246.33 441.74,246.29 446.14,246.21 450.54,246.1 454.95,245.97 459.35,245.81 463.76,245.64 468.16,245.46 472.56,245.27 476.97,245.09 481.37,244.91 485.78,244.74 490.18,244.58 494.58,244.45 498.99,244.34 503.39,244.26 507.8,244.22 512.2,244.2" fill="none" stroke="#555555" stroke-width="1.1"/>
<polyline points="292,247.25 296.4,247.22 300.81,247.13 305.21,246.99 309.62,246.8 314.02,246.59 318.42,246.37 322.83,246.15 327.23,245.96 331.64,245.8 336.04,245.7 340.44,245.65 344.85,245.66 349.25,245.7 353.66,245.77 358.06,245.87 362.46,246 366.87,246.15 371.27,246.32 375.68,246.51 380.08,246.71 384.48,246.92 388.89,247.13 393.29,247.34 397.7,247.54 402.1,247.73 406.5,247.91 410.91,248.07 415.31,248.2 419.72,248.31 424.12,248.39 428.52,248.43 432.93,248.45 437.33,248.43 441.74,248.39 446.14,248.31 450.54,248.2 454.95,248.07 459.35,247.91 463.76,247.74 468.16,247.56 472.56,247.38 476.97,247.19 481.37,247.01 485.78,246.84 490.18,246.68 494.58,246.55 498.99,246.44 503.39,246.36 507.8,246.32 512.2,246.3" fill="none" stroke="#555555" stroke-width="1.1"/>
<rect x="445.4" y="204.1" width="5.6" height="5.6" fill="#f7dbe1" stroke="#d4475d" stroke-width="1.1"/>
<text x="454.6" y="209.8" font-size="8" textLength="33" lengthAdjust="spacingAndGlyphs" fill="#222">DL1: 5 mg</text>
<rect x="445.4" y="214" width="5.6" height="5.6" fill="#dbe5ef" stroke="#3a6d9e" stroke-width="1.1"/>
<text x="454.6" y="219.7" font-size="8" textLength="37.5" lengthAdjust="spacingAndGlyphs" fill="#222">DL2: 10 mg</text>
<text x="271.6" y="192.8" font-size="11.8" font-weight="bold" fill="#000" stroke="#000" stroke-width="0.35" textLength="8.0" lengthAdjust="spacingAndGlyphs">D</text>
<text x="372.3" y="193.5" font-size="9.6" font-weight="bold" fill="#000" stroke="#000" stroke-width="0.2" textLength="58.8" lengthAdjust="spacingAndGlyphs">FoxP3<tspan font-size="7" dy="-2.9">+</tspan><tspan dy="2.9">Tregs</tspan></text>
<text transform="translate(270.4,267.5) rotate(-90)" x="0" y="0" font-size="9.4" text-anchor="middle" textLength="59.5" lengthAdjust="spacingAndGlyphs" fill="#1a1a1a" stroke="#1a1a1a" stroke-width="0.28">Absolute cell number</text>
<line x1="34.8" y1="375.5" x2="257" y2="375.5" stroke="#555555" stroke-width="1.2"/>
<line x1="34.8" y1="508.6" x2="257" y2="508.6" stroke="#555555" stroke-width="1.3"/>
<line x1="34.8" y1="375.5" x2="34.8" y2="508.6" stroke="#555555" stroke-width="1.2"/>
<line x1="257" y1="375.5" x2="257" y2="508.6" stroke="#555555" stroke-width="1.2"/>
<line x1="31.4" y1="384" x2="34.8" y2="384" stroke="#444" stroke-width="1.1"/>
<text x="18.29" y="386.3" font-size="8.6" textLength="11.26" lengthAdjust="spacingAndGlyphs" fill="#222" stroke="#222" stroke-width="0.08">4.0</text>
<line x1="31.4" y1="392.3" x2="34.8" y2="392.3" stroke="#444" stroke-width="1.1"/>
<text x="18.29" y="394.6" font-size="8.6" textLength="11.26" lengthAdjust="spacingAndGlyphs" fill="#222" stroke="#222" stroke-width="0.08">3.8</text>
<line x1="31.4" y1="503.3" x2="34.8" y2="503.3" stroke="#444" stroke-width="1.1"/>
<text x="18.29" y="505.6" font-size="8.6" textLength="11.26" lengthAdjust="spacingAndGlyphs" fill="#222" stroke="#222" stroke-width="0.08">0.0</text>
<line x1="31.4" y1="494.88" x2="34.8" y2="494.88" stroke="#444" stroke-width="1.1"/>
<line x1="31.4" y1="486.45" x2="34.8" y2="486.45" stroke="#444" stroke-width="1.1"/>
<text x="18.29" y="488.75" font-size="8.6" textLength="11.26" lengthAdjust="spacingAndGlyphs" fill="#222" stroke="#222" stroke-width="0.08">0.4</text>
<line x1="31.4" y1="478.02" x2="34.8" y2="478.02" stroke="#444" stroke-width="1.1"/>
<line x1="31.4" y1="469.6" x2="34.8" y2="469.6" stroke="#444" stroke-width="1.1"/>
<text x="18.29" y="471.9" font-size="8.6" textLength="11.26" lengthAdjust="spacingAndGlyphs" fill="#222" stroke="#222" stroke-width="0.08">0.8</text>
<line x1="31.4" y1="461.18" x2="34.8" y2="461.18" stroke="#444" stroke-width="1.1"/>
<line x1="31.4" y1="452.75" x2="34.8" y2="452.75" stroke="#444" stroke-width="1.1"/>
<text x="18.29" y="455.05" font-size="8.6" textLength="11.26" lengthAdjust="spacingAndGlyphs" fill="#222" stroke="#222" stroke-width="0.08">1.2</text>
<line x1="31.4" y1="444.32" x2="34.8" y2="444.32" stroke="#444" stroke-width="1.1"/>
<line x1="31.4" y1="435.9" x2="34.8" y2="435.9" stroke="#444" stroke-width="1.1"/>
<text x="18.29" y="438.2" font-size="8.6" textLength="11.26" lengthAdjust="spacingAndGlyphs" fill="#222" stroke="#222" stroke-width="0.08">1.6</text>
<line x1="31.4" y1="427.48" x2="34.8" y2="427.48" stroke="#444" stroke-width="1.1"/>
<line x1="31.4" y1="419.05" x2="34.8" y2="419.05" stroke="#444" stroke-width="1.1"/>
<text x="18.29" y="421.35" font-size="8.6" textLength="11.26" lengthAdjust="spacingAndGlyphs" fill="#222" stroke="#222" stroke-width="0.08">2.0</text>
<line x1="31.4" y1="410.62" x2="34.8" y2="410.62" stroke="#444" stroke-width="1.1"/>
<line x1="31.4" y1="402.2" x2="34.8" y2="402.2" stroke="#444" stroke-width="1.1"/>
<text x="18.29" y="404.5" font-size="8.6" textLength="11.26" lengthAdjust="spacingAndGlyphs" fill="#222" stroke="#222" stroke-width="0.08">2.4</text>
<line x1="73.75" y1="508.6" x2="73.75" y2="511.6" stroke="#444" stroke-width="1.3"/>
<text x="59.15" y="519.4" font-size="9.8" textLength="27.6" lengthAdjust="spacingAndGlyphs" fill="#1e1e1e" stroke="#1e1e1e" stroke-width="0.14">Day 21</text>
<line x1="145" y1="508.6" x2="145" y2="511.6" stroke="#444" stroke-width="1.3"/>
<text x="130.6" y="519.4" font-size="9.8" textLength="29.4" lengthAdjust="spacingAndGlyphs" fill="#1e1e1e" stroke="#1e1e1e" stroke-width="0.14">Day 35</text>
<line x1="217.2" y1="508.6" x2="217.2" y2="511.6" stroke="#444" stroke-width="1.3"/>
<text x="200.5" y="519.4" font-size="9.8" textLength="34.0" lengthAdjust="spacingAndGlyphs" fill="#1e1e1e" stroke="#1e1e1e" stroke-width="0.14">Day 100</text>
<line x1="61.62" y1="444.5" x2="61.62" y2="448.35" stroke="#d4475d" stroke-width="1.1"/>
<line x1="58.02" y1="444.5" x2="65.22" y2="444.5" stroke="#d4475d" stroke-width="1.1"/>
<line x1="61.62" y1="495.15" x2="61.62" y2="498.25" stroke="#d4475d" stroke-width="1.1"/>
<line x1="58.02" y1="498.25" x2="65.22" y2="498.25" stroke="#d4475d" stroke-width="1.1"/>
<rect x="54.2" y="448.35" width="14.85" height="46.8" fill="#f7dbe1" stroke="#d4475d" stroke-width="1.45"/>
<rect x="55.5" y="449.65" width="12.25" height="44.2" fill="none" stroke="#fff" stroke-opacity="0.55" stroke-width="0.6"/>
<line x1="54.2" y1="489.25" x2="69.05" y2="489.25" stroke="#d4475d" stroke-width="1.15"/>
<circle cx="61.62" cy="475.25" r="1.9" fill="#fff" stroke="#d4475d" stroke-width="1.3"/>
<line x1="86.62" y1="456.25" x2="86.62" y2="467.1" stroke="#3a6d9e" stroke-width="1.1"/>
<line x1="83.03" y1="456.25" x2="90.22" y2="456.25" stroke="#3a6d9e" stroke-width="1.1"/>
<line x1="86.62" y1="492.65" x2="86.62" y2="498.25" stroke="#3a6d9e" stroke-width="1.1"/>
<line x1="83.03" y1="498.25" x2="90.22" y2="498.25" stroke="#3a6d9e" stroke-width="1.1"/>
<rect x="79.2" y="467.1" width="14.85" height="25.55" fill="#dbe5ef" stroke="#3a6d9e" stroke-width="1.45"/>
<rect x="80.5" y="468.4" width="12.25" height="22.95" fill="none" stroke="#fff" stroke-opacity="0.55" stroke-width="0.6"/>
<line x1="79.2" y1="476.25" x2="94.05" y2="476.25" stroke="#3a6d9e" stroke-width="1.15"/>
<circle cx="86.62" cy="467.5" r="1.9" fill="#fff" stroke="#3a6d9e" stroke-width="1.3"/>
<line x1="133.5" y1="482.4" x2="133.5" y2="484.65" stroke="#d4475d" stroke-width="1.1"/>
<line x1="129.9" y1="482.4" x2="137.1" y2="482.4" stroke="#d4475d" stroke-width="1.1"/>
<line x1="133.5" y1="490.15" x2="133.5" y2="495.3" stroke="#d4475d" stroke-width="1.1"/>
<line x1="129.9" y1="495.3" x2="137.1" y2="495.3" stroke="#d4475d" stroke-width="1.1"/>
<rect x="125.65" y="484.65" width="15.7" height="5.5" fill="#f7dbe1" stroke="#d4475d" stroke-width="1.45"/>
<rect x="126.95" y="485.95" width="13.1" height="2.9" fill="none" stroke="#fff" stroke-opacity="0.55" stroke-width="0.6"/>
<circle cx="133.5" cy="488.2" r="1.9" fill="#fff" stroke="#d4475d" stroke-width="1.3"/>
<line x1="158.8" y1="419.6" x2="158.8" y2="456.95" stroke="#3a6d9e" stroke-width="1.1"/>
<line x1="155.2" y1="419.6" x2="162.4" y2="419.6" stroke="#3a6d9e" stroke-width="1.1"/>
<line x1="158.8" y1="485.95" x2="158.8" y2="495.5" stroke="#3a6d9e" stroke-width="1.1"/>
<line x1="155.2" y1="495.5" x2="162.4" y2="495.5" stroke="#3a6d9e" stroke-width="1.1"/>
<rect x="151.45" y="456.95" width="14.7" height="29" fill="#dbe5ef" stroke="#3a6d9e" stroke-width="1.45"/>
<rect x="152.75" y="458.25" width="12.1" height="26.4" fill="none" stroke="#fff" stroke-opacity="0.55" stroke-width="0.6"/>
<line x1="151.45" y1="474.5" x2="166.15" y2="474.5" stroke="#3a6d9e" stroke-width="1.15"/>
<circle cx="158.8" cy="469.5" r="1.9" fill="#fff" stroke="#3a6d9e" stroke-width="1.3"/>
<line x1="205.45" y1="456.45" x2="205.45" y2="480" stroke="#d4475d" stroke-width="1.1"/>
<line x1="201.85" y1="480" x2="209.05" y2="480" stroke="#d4475d" stroke-width="1.1"/>
<rect x="197.75" y="419.15" width="15.4" height="37.3" fill="#f7dbe1" stroke="#d4475d" stroke-width="1.45"/>
<rect x="199.05" y="420.45" width="12.8" height="34.7" fill="none" stroke="#fff" stroke-opacity="0.55" stroke-width="0.6"/>
<line x1="197.75" y1="429.5" x2="213.15" y2="429.5" stroke="#d4475d" stroke-width="1.15"/>
<circle cx="205.45" cy="423" r="1.9" fill="#fff" stroke="#d4475d" stroke-width="1.3"/>
<line x1="231" y1="407.4" x2="231" y2="452.55" stroke="#3a6d9e" stroke-width="1.1"/>
<line x1="227.4" y1="407.4" x2="234.6" y2="407.4" stroke="#3a6d9e" stroke-width="1.1"/>
<line x1="231" y1="482.05" x2="231" y2="497.4" stroke="#3a6d9e" stroke-width="1.1"/>
<line x1="227.4" y1="497.4" x2="234.6" y2="497.4" stroke="#3a6d9e" stroke-width="1.1"/>
<rect x="223.65" y="452.55" width="14.7" height="29.5" fill="#dbe5ef" stroke="#3a6d9e" stroke-width="1.45"/>
<rect x="224.95" y="453.85" width="12.1" height="26.9" fill="none" stroke="#fff" stroke-opacity="0.55" stroke-width="0.6"/>
<line x1="223.65" y1="475.2" x2="238.35" y2="475.2" stroke="#3a6d9e" stroke-width="1.15"/>
<circle cx="231" cy="466.7" r="1.9" fill="#fff" stroke="#3a6d9e" stroke-width="1.3"/>
<circle cx="86.75" cy="392.75" r="1.6" fill="none" stroke="#3a6d9e" stroke-width="0.9"/>
<circle cx="205.5" cy="382.8" r="1.6" fill="none" stroke="#d4475d" stroke-width="0.9"/>
<polygon points="33.3,398.8 37.8,398.77 42.31,398.68 46.81,398.54 51.32,398.35 55.82,398.14 60.32,397.92 64.83,397.7 69.33,397.51 73.84,397.35 78.34,397.25 82.84,397.2 87.35,397.21 91.85,397.25 96.36,397.32 100.86,397.42 105.36,397.55 109.87,397.7 114.37,397.87 118.88,398.06 123.38,398.26 127.88,398.47 132.39,398.68 136.89,398.89 141.4,399.09 145.9,399.28 150.4,399.46 154.91,399.62 159.41,399.75 163.92,399.86 168.42,399.94 172.92,399.98 177.43,400 181.93,399.98 186.44,399.94 190.94,399.86 195.44,399.75 199.95,399.62 204.45,399.46 208.96,399.29 213.46,399.11 217.96,398.92 222.47,398.74 226.97,398.56 231.48,398.39 235.98,398.23 240.48,398.1 244.99,397.99 249.49,397.91 254,397.87 258.5,397.85 258.5,399.15 254,399.17 249.49,399.21 244.99,399.29 240.48,399.4 235.98,399.53 231.48,399.69 226.97,399.86 222.47,400.04 217.96,400.23 213.46,400.41 208.96,400.59 204.45,400.76 199.95,400.92 195.44,401.05 190.94,401.16 186.44,401.24 181.93,401.28 177.43,401.3 172.92,401.28 168.42,401.24 163.92,401.16 159.41,401.05 154.91,400.92 150.4,400.76 145.9,400.58 141.4,400.39 136.89,400.19 132.39,399.98 127.88,399.77 123.38,399.56 118.88,399.36 114.37,399.17 109.87,399 105.36,398.85 100.86,398.72 96.36,398.62 91.85,398.55 87.35,398.51 82.84,398.5 78.34,398.55 73.84,398.65 69.33,398.81 64.83,399 60.32,399.22 55.82,399.44 51.32,399.65 46.81,399.84 42.31,399.98 37.8,400.07 33.3,400.1" fill="#fff" stroke="none"/>
<polyline points="34.2,399.45 38.67,399.42 43.14,399.33 47.6,399.19 52.07,399 56.54,398.79 61.01,398.57 65.48,398.35 69.94,398.16 74.41,398 78.88,397.9 83.35,397.85 87.82,397.86 92.28,397.9 96.75,397.97 101.22,398.07 105.69,398.2 110.16,398.35 114.62,398.52 119.09,398.71 123.56,398.91 128.03,399.12 132.5,399.33 136.96,399.54 141.43,399.74 145.9,399.93 150.37,400.11 154.84,400.27 159.3,400.4 163.77,400.51 168.24,400.59 172.71,400.63 177.18,400.65 181.64,400.63 186.11,400.59 190.58,400.51 195.05,400.4 199.52,400.27 203.98,400.11 208.45,399.94 212.92,399.76 217.39,399.57 221.86,399.39 226.32,399.21 230.79,399.04 235.26,398.88 239.73,398.75 244.2,398.64 248.66,398.56 253.13,398.52 257.6,398.5" fill="none" stroke="#c8c8c8" stroke-width="1"/>
<polyline points="34.2,398.4 38.67,398.37 43.14,398.28 47.6,398.14 52.07,397.95 56.54,397.74 61.01,397.52 65.48,397.3 69.94,397.11 74.41,396.95 78.88,396.85 83.35,396.8 87.82,396.81 92.28,396.85 96.75,396.92 101.22,397.02 105.69,397.15 110.16,397.3 114.62,397.47 119.09,397.66 123.56,397.86 128.03,398.07 132.5,398.28 136.96,398.49 141.43,398.69 145.9,398.88 150.37,399.06 154.84,399.22 159.3,399.35 163.77,399.46 168.24,399.54 172.71,399.58 177.18,399.6 181.64,399.58 186.11,399.54 190.58,399.46 195.05,399.35 199.52,399.22 203.98,399.06 208.45,398.89 212.92,398.71 217.39,398.52 221.86,398.34 226.32,398.16 230.79,397.99 235.26,397.83 239.73,397.7 244.2,397.59 248.66,397.51 253.13,397.47 257.6,397.45" fill="none" stroke="#555555" stroke-width="1.1"/>
<polyline points="34.2,400.5 38.67,400.47 43.14,400.38 47.6,400.24 52.07,400.05 56.54,399.84 61.01,399.62 65.48,399.4 69.94,399.21 74.41,399.05 78.88,398.95 83.35,398.9 87.82,398.91 92.28,398.95 96.75,399.02 101.22,399.12 105.69,399.25 110.16,399.4 114.62,399.57 119.09,399.76 123.56,399.96 128.03,400.17 132.5,400.38 136.96,400.59 141.43,400.79 145.9,400.98 150.37,401.16 154.84,401.32 159.3,401.45 163.77,401.56 168.24,401.64 172.71,401.68 177.18,401.7 181.64,401.68 186.11,401.64 190.58,401.56 195.05,401.45 199.52,401.32 203.98,401.16 208.45,400.99 212.92,400.81 217.39,400.62 221.86,400.44 226.32,400.26 230.79,400.09 235.26,399.93 239.73,399.8 244.2,399.69 248.66,399.61 253.13,399.57 257.6,399.55" fill="none" stroke="#555555" stroke-width="1.1"/>
<rect x="152.3" y="379.4" width="5.6" height="5.6" fill="#f7dbe1" stroke="#d4475d" stroke-width="1.1"/>
<text x="161.5" y="385.1" font-size="8" textLength="33" lengthAdjust="spacingAndGlyphs" fill="#222">DL1: 5 mg</text>
<rect x="152.3" y="388.8" width="5.6" height="5.6" fill="#dbe5ef" stroke="#3a6d9e" stroke-width="1.1"/>
<text x="161.5" y="394.5" font-size="8" textLength="37.5" lengthAdjust="spacingAndGlyphs" fill="#222">DL2: 10 mg</text>
<text x="11" y="367.4" font-size="11.8" font-weight="bold" fill="#000" stroke="#000" stroke-width="0.35" textLength="6.9" lengthAdjust="spacingAndGlyphs">E</text>
<text x="113.5" y="368.1" font-size="9.6" font-weight="bold" fill="#000" stroke="#000" stroke-width="0.2" textLength="61.6" lengthAdjust="spacingAndGlyphs">CD27<tspan font-size="7" dy="-2.9">+</tspan><tspan dy="2.9"> B Cells</tspan></text>
<text transform="translate(12.6,442) rotate(-90)" x="0" y="0" font-size="9.4" text-anchor="middle" textLength="59.5" lengthAdjust="spacingAndGlyphs" fill="#1a1a1a" stroke="#1a1a1a" stroke-width="0.28">Absolute cell number</text>
<line x1="294.9" y1="375.65" x2="512.8" y2="375.65" stroke="#555555" stroke-width="1.2"/>
<line x1="294.9" y1="508.7" x2="512.8" y2="508.7" stroke="#555555" stroke-width="1.3"/>
<line x1="294.9" y1="375.65" x2="294.9" y2="508.7" stroke="#555555" stroke-width="1.2"/>
<line x1="512.8" y1="375.65" x2="512.8" y2="508.7" stroke="#555555" stroke-width="1.2"/>
<line x1="291.5" y1="381" x2="294.9" y2="381" stroke="#444" stroke-width="1.1"/>
<text x="277.14" y="383.3" font-size="8.6" textLength="13.51" lengthAdjust="spacingAndGlyphs" fill="#222" stroke="#222" stroke-width="0.08">355</text>
<line x1="291.5" y1="392.3" x2="294.9" y2="392.3" stroke="#444" stroke-width="1.1"/>
<text x="277.14" y="394.6" font-size="8.6" textLength="13.51" lengthAdjust="spacingAndGlyphs" fill="#222" stroke="#222" stroke-width="0.08">335</text>
<line x1="291.5" y1="504.9" x2="294.9" y2="504.9" stroke="#444" stroke-width="1.1"/>
<text x="286.15" y="507.2" font-size="8.6" textLength="4.5" lengthAdjust="spacingAndGlyphs" fill="#222" stroke="#222" stroke-width="0.08">0</text>
<line x1="291.5" y1="494.84" x2="294.9" y2="494.84" stroke="#444" stroke-width="1.1"/>
<line x1="291.5" y1="484.78" x2="294.9" y2="484.78" stroke="#444" stroke-width="1.1"/>
<text x="281.64" y="487.08" font-size="8.6" textLength="9.01" lengthAdjust="spacingAndGlyphs" fill="#222" stroke="#222" stroke-width="0.08">40</text>
<line x1="291.5" y1="474.72" x2="294.9" y2="474.72" stroke="#444" stroke-width="1.1"/>
<line x1="291.5" y1="464.66" x2="294.9" y2="464.66" stroke="#444" stroke-width="1.1"/>
<text x="281.64" y="466.96" font-size="8.6" textLength="9.01" lengthAdjust="spacingAndGlyphs" fill="#222" stroke="#222" stroke-width="0.08">80</text>
<line x1="291.5" y1="454.6" x2="294.9" y2="454.6" stroke="#444" stroke-width="1.1"/>
<line x1="291.5" y1="444.54" x2="294.9" y2="444.54" stroke="#444" stroke-width="1.1"/>
<text x="277.14" y="446.84" font-size="8.6" textLength="13.51" lengthAdjust="spacingAndGlyphs" fill="#222" stroke="#222" stroke-width="0.08">120</text>
<line x1="291.5" y1="434.48" x2="294.9" y2="434.48" stroke="#444" stroke-width="1.1"/>
<line x1="291.5" y1="424.42" x2="294.9" y2="424.42" stroke="#444" stroke-width="1.1"/>
<text x="277.14" y="426.72" font-size="8.6" textLength="13.51" lengthAdjust="spacingAndGlyphs" fill="#222" stroke="#222" stroke-width="0.08">160</text>
<line x1="291.5" y1="414.36" x2="294.9" y2="414.36" stroke="#444" stroke-width="1.1"/>
<line x1="291.5" y1="404.3" x2="294.9" y2="404.3" stroke="#444" stroke-width="1.1"/>
<text x="277.14" y="406.6" font-size="8.6" textLength="13.51" lengthAdjust="spacingAndGlyphs" fill="#222" stroke="#222" stroke-width="0.08">200</text>
<line x1="332.5" y1="508.7" x2="332.5" y2="511.7" stroke="#444" stroke-width="1.3"/>
<text x="317.7" y="519.4" font-size="9.8" textLength="27.6" lengthAdjust="spacingAndGlyphs" fill="#1e1e1e" stroke="#1e1e1e" stroke-width="0.14">Day 21</text>
<line x1="402.9" y1="508.7" x2="402.9" y2="511.7" stroke="#444" stroke-width="1.3"/>
<text x="388.1" y="519.4" font-size="9.8" textLength="29.4" lengthAdjust="spacingAndGlyphs" fill="#1e1e1e" stroke="#1e1e1e" stroke-width="0.14">Day 35</text>
<line x1="472.9" y1="508.7" x2="472.9" y2="511.7" stroke="#444" stroke-width="1.3"/>
<text x="456.2" y="519.4" font-size="9.8" textLength="34.0" lengthAdjust="spacingAndGlyphs" fill="#1e1e1e" stroke="#1e1e1e" stroke-width="0.14">Day 100</text>
<line x1="320" y1="490.35" x2="320" y2="494.25" stroke="#d4475d" stroke-width="1.1"/>
<line x1="316.4" y1="494.25" x2="323.6" y2="494.25" stroke="#d4475d" stroke-width="1.1"/>
<rect x="312.65" y="487.65" width="14.7" height="2.7" fill="#f7dbe1" stroke="#d4475d" stroke-width="1.45"/>
<circle cx="320" cy="482.5" r="1.9" fill="#fff" stroke="#d4475d" stroke-width="1.3"/>
<circle cx="320" cy="452" r="1.6" fill="none" stroke="#d4475d" stroke-width="0.9"/>
<line x1="345.25" y1="401.5" x2="345.25" y2="439.85" stroke="#3a6d9e" stroke-width="1.1"/>
<line x1="341.65" y1="401.5" x2="348.85" y2="401.5" stroke="#3a6d9e" stroke-width="1.1"/>
<line x1="345.25" y1="487.9" x2="345.25" y2="490.5" stroke="#3a6d9e" stroke-width="1.1"/>
<line x1="341.65" y1="490.5" x2="348.85" y2="490.5" stroke="#3a6d9e" stroke-width="1.1"/>
<rect x="337.95" y="439.85" width="14.6" height="48.05" fill="#dbe5ef" stroke="#3a6d9e" stroke-width="1.45"/>
<rect x="339.25" y="441.15" width="12" height="45.45" fill="none" stroke="#fff" stroke-opacity="0.55" stroke-width="0.6"/>
<line x1="337.95" y1="470" x2="352.55" y2="470" stroke="#3a6d9e" stroke-width="1.15"/>
<circle cx="345.25" cy="452" r="1.9" fill="#fff" stroke="#3a6d9e" stroke-width="1.3"/>
<line x1="390.75" y1="436" x2="390.75" y2="444.75" stroke="#d4475d" stroke-width="1.1"/>
<line x1="387.15" y1="436" x2="394.35" y2="436" stroke="#d4475d" stroke-width="1.1"/>
<line x1="390.75" y1="466.15" x2="390.75" y2="489.4" stroke="#d4475d" stroke-width="1.1"/>
<line x1="387.15" y1="489.4" x2="394.35" y2="489.4" stroke="#d4475d" stroke-width="1.1"/>
<rect x="383.15" y="444.75" width="15.2" height="21.4" fill="#f7dbe1" stroke="#d4475d" stroke-width="1.45"/>
<rect x="384.45" y="446.05" width="12.6" height="18.8" fill="none" stroke="#fff" stroke-opacity="0.55" stroke-width="0.6"/>
<line x1="383.15" y1="445.2" x2="398.35" y2="445.2" stroke="#d4475d" stroke-width="1.15"/>
<circle cx="390.75" cy="455.7" r="1.9" fill="#fff" stroke="#d4475d" stroke-width="1.3"/>
<line x1="416.1" y1="424.4" x2="416.1" y2="452.35" stroke="#3a6d9e" stroke-width="1.1"/>
<line x1="412.5" y1="424.4" x2="419.7" y2="424.4" stroke="#3a6d9e" stroke-width="1.1"/>
<line x1="416.1" y1="484.95" x2="416.1" y2="492.9" stroke="#3a6d9e" stroke-width="1.1"/>
<line x1="412.5" y1="492.9" x2="419.7" y2="492.9" stroke="#3a6d9e" stroke-width="1.1"/>
<rect x="408.75" y="452.35" width="14.7" height="32.6" fill="#dbe5ef" stroke="#3a6d9e" stroke-width="1.45"/>
<rect x="410.05" y="453.65" width="12.1" height="30" fill="none" stroke="#fff" stroke-opacity="0.55" stroke-width="0.6"/>
<line x1="408.75" y1="474" x2="423.45" y2="474" stroke="#3a6d9e" stroke-width="1.15"/>
<circle cx="416.1" cy="467.3" r="1.9" fill="#fff" stroke="#3a6d9e" stroke-width="1.3"/>
<line x1="461.85" y1="437.2" x2="461.85" y2="443.45" stroke="#d4475d" stroke-width="1.1"/>
<line x1="458.25" y1="437.2" x2="465.45" y2="437.2" stroke="#d4475d" stroke-width="1.1"/>
<line x1="461.85" y1="456.15" x2="461.85" y2="463.3" stroke="#d4475d" stroke-width="1.1"/>
<line x1="458.25" y1="463.3" x2="465.45" y2="463.3" stroke="#d4475d" stroke-width="1.1"/>
<rect x="454.45" y="443.45" width="14.8" height="12.7" fill="#f7dbe1" stroke="#d4475d" stroke-width="1.45"/>
<rect x="455.75" y="444.75" width="12.2" height="10.1" fill="none" stroke="#fff" stroke-opacity="0.55" stroke-width="0.6"/>
<line x1="454.45" y1="445.8" x2="469.25" y2="445.8" stroke="#d4475d" stroke-width="1.15"/>
<circle cx="461.85" cy="450.3" r="1.9" fill="#fff" stroke="#d4475d" stroke-width="1.3"/>
<line x1="486.6" y1="423" x2="486.6" y2="440.75" stroke="#3a6d9e" stroke-width="1.1"/>
<line x1="483" y1="423" x2="490.2" y2="423" stroke="#3a6d9e" stroke-width="1.1"/>
<line x1="486.6" y1="470.95" x2="486.6" y2="477.5" stroke="#3a6d9e" stroke-width="1.1"/>
<line x1="483" y1="477.5" x2="490.2" y2="477.5" stroke="#3a6d9e" stroke-width="1.1"/>
<rect x="479.25" y="440.75" width="14.7" height="30.2" fill="#dbe5ef" stroke="#3a6d9e" stroke-width="1.45"/>
<rect x="480.55" y="442.05" width="12.1" height="27.6" fill="none" stroke="#fff" stroke-opacity="0.55" stroke-width="0.6"/>
<line x1="479.25" y1="452" x2="493.95" y2="452" stroke="#3a6d9e" stroke-width="1.15"/>
<circle cx="486.6" cy="454.7" r="1.9" fill="#fff" stroke="#3a6d9e" stroke-width="1.3"/>
<circle cx="345" cy="386.5" r="1.6" fill="none" stroke="#3a6d9e" stroke-width="0.9"/>
<polygon points="293.4,397.75 297.82,397.72 302.24,397.63 306.65,397.49 311.07,397.3 315.49,397.09 319.91,396.87 324.33,396.65 328.74,396.46 333.16,396.3 337.58,396.2 342,396.15 346.42,396.16 350.83,396.2 355.25,396.27 359.67,396.37 364.09,396.5 368.51,396.65 372.92,396.82 377.34,397.01 381.76,397.21 386.18,397.42 390.6,397.63 395.01,397.84 399.43,398.04 403.85,398.23 408.27,398.41 412.69,398.57 417.1,398.7 421.52,398.81 425.94,398.89 430.36,398.93 434.78,398.95 439.19,398.93 443.61,398.89 448.03,398.81 452.45,398.7 456.87,398.57 461.28,398.41 465.7,398.24 470.12,398.06 474.54,397.87 478.96,397.69 483.37,397.51 487.79,397.34 492.21,397.18 496.63,397.05 501.05,396.94 505.46,396.86 509.88,396.82 514.3,396.8 514.3,398.1 509.88,398.12 505.46,398.16 501.05,398.24 496.63,398.35 492.21,398.48 487.79,398.64 483.37,398.81 478.96,398.99 474.54,399.18 470.12,399.36 465.7,399.54 461.28,399.71 456.87,399.87 452.45,400 448.03,400.11 443.61,400.19 439.19,400.23 434.78,400.25 430.36,400.23 425.94,400.19 421.52,400.11 417.1,400 412.69,399.87 408.27,399.71 403.85,399.53 399.43,399.34 395.01,399.14 390.6,398.93 386.18,398.72 381.76,398.51 377.34,398.31 372.92,398.12 368.51,397.95 364.09,397.8 359.67,397.67 355.25,397.57 350.83,397.5 346.42,397.46 342,397.45 337.58,397.5 333.16,397.6 328.74,397.76 324.33,397.95 319.91,398.17 315.49,398.39 311.07,398.6 306.65,398.79 302.24,398.93 297.82,399.02 293.4,399.05" fill="#fff" stroke="none"/>
<polyline points="294.3,398.4 298.68,398.37 303.06,398.28 307.45,398.14 311.83,397.95 316.21,397.74 320.59,397.52 324.97,397.3 329.36,397.11 333.74,396.95 338.12,396.85 342.5,396.8 346.88,396.81 351.27,396.85 355.65,396.92 360.03,397.02 364.41,397.15 368.79,397.3 373.18,397.47 377.56,397.66 381.94,397.86 386.32,398.07 390.7,398.28 395.09,398.49 399.47,398.69 403.85,398.88 408.23,399.06 412.61,399.22 417,399.35 421.38,399.46 425.76,399.54 430.14,399.58 434.52,399.6 438.91,399.58 443.29,399.54 447.67,399.46 452.05,399.35 456.43,399.22 460.82,399.06 465.2,398.89 469.58,398.71 473.96,398.52 478.34,398.34 482.73,398.16 487.11,397.99 491.49,397.83 495.87,397.7 500.25,397.59 504.64,397.51 509.02,397.47 513.4,397.45" fill="none" stroke="#c8c8c8" stroke-width="1"/>
<polyline points="294.3,397.35 298.68,397.32 303.06,397.23 307.45,397.09 311.83,396.9 316.21,396.69 320.59,396.47 324.97,396.25 329.36,396.06 333.74,395.9 338.12,395.8 342.5,395.75 346.88,395.76 351.27,395.8 355.65,395.87 360.03,395.97 364.41,396.1 368.79,396.25 373.18,396.42 377.56,396.61 381.94,396.81 386.32,397.02 390.7,397.23 395.09,397.44 399.47,397.64 403.85,397.83 408.23,398.01 412.61,398.17 417,398.3 421.38,398.41 425.76,398.49 430.14,398.53 434.52,398.55 438.91,398.53 443.29,398.49 447.67,398.41 452.05,398.3 456.43,398.17 460.82,398.01 465.2,397.84 469.58,397.66 473.96,397.47 478.34,397.29 482.73,397.11 487.11,396.94 491.49,396.78 495.87,396.65 500.25,396.54 504.64,396.46 509.02,396.42 513.4,396.4" fill="none" stroke="#555555" stroke-width="1.1"/>
<polyline points="294.3,399.45 298.68,399.42 303.06,399.33 307.45,399.19 311.83,399 316.21,398.79 320.59,398.57 324.97,398.35 329.36,398.16 333.74,398 338.12,397.9 342.5,397.85 346.88,397.86 351.27,397.9 355.65,397.97 360.03,398.07 364.41,398.2 368.79,398.35 373.18,398.52 377.56,398.71 381.94,398.91 386.32,399.12 390.7,399.33 395.09,399.54 399.47,399.74 403.85,399.93 408.23,400.11 412.61,400.27 417,400.4 421.38,400.51 425.76,400.59 430.14,400.63 434.52,400.65 438.91,400.63 443.29,400.59 447.67,400.51 452.05,400.4 456.43,400.27 460.82,400.11 465.2,399.94 469.58,399.76 473.96,399.57 478.34,399.39 482.73,399.21 487.11,399.04 491.49,398.88 495.87,398.75 500.25,398.64 504.64,398.56 509.02,398.52 513.4,398.5" fill="none" stroke="#555555" stroke-width="1.1"/>
<rect x="455.4" y="378.1" width="5.6" height="5.6" fill="#f7dbe1" stroke="#d4475d" stroke-width="1.1"/>
<text x="464.6" y="383.8" font-size="8" textLength="33" lengthAdjust="spacingAndGlyphs" fill="#222">DL1: 5 mg</text>
<rect x="455.4" y="388" width="5.6" height="5.6" fill="#dbe5ef" stroke="#3a6d9e" stroke-width="1.1"/>
<text x="464.6" y="393.7" font-size="8" textLength="37.5" lengthAdjust="spacingAndGlyphs" fill="#222">DL2: 10 mg</text>
<text x="273.5" y="367.4" font-size="11.8" font-weight="bold" fill="#000" stroke="#000" stroke-width="0.35" textLength="6.3" lengthAdjust="spacingAndGlyphs">F</text>
<text x="374.7" y="368.3" font-size="9.6" font-weight="bold" fill="#000" stroke="#000" stroke-width="0.2" textLength="68.9" lengthAdjust="spacingAndGlyphs">CD56<tspan font-size="7" dy="-2.9">+</tspan><tspan dy="2.9"> NK Cells</tspan></text>
<text transform="translate(272.2,446) rotate(-90)" x="0" y="0" font-size="9.4" text-anchor="middle" textLength="59.5" lengthAdjust="spacingAndGlyphs" fill="#1a1a1a" stroke="#1a1a1a" stroke-width="0.28">Absolute cell number</text>
</svg></body></html>
